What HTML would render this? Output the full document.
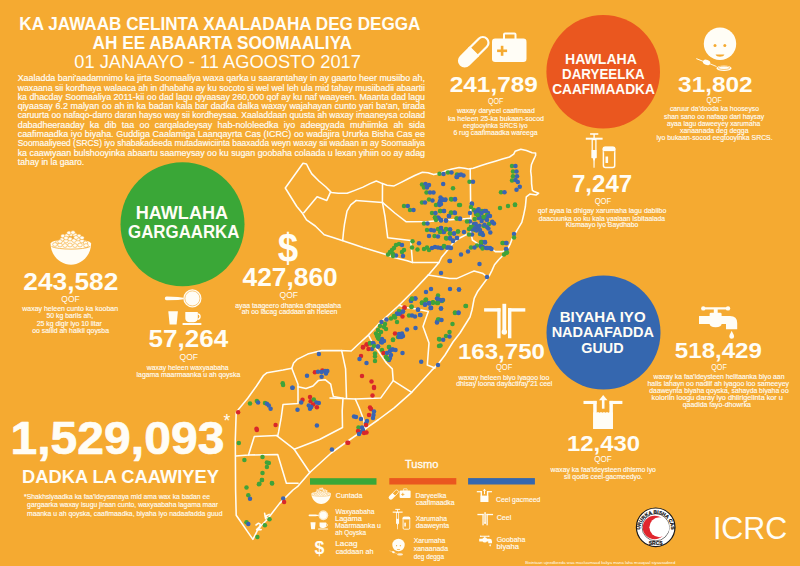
<!DOCTYPE html>
<html><head><meta charset="utf-8"><title>ICRC Somalia</title>
<style>html,body{margin:0;padding:0;background:#F5AA31;} svg{display:block;} text{font-family:"Liberation Sans", Arial, sans-serif;}</style>
</head><body>
<svg width="800" height="566" viewBox="0 0 800 566">
<rect width="800" height="566" fill="#F5AA31"/>
<g fill="none" stroke="#FFFDF6" stroke-width="1.55" stroke-linejoin="round" stroke-linecap="round">
<polyline points="303.0,163.3 306.5,164.0 309.2,169.4 311.8,173.9 318.9,181.0 326.0,187.0 331.2,192.4 338.3,193.3 347.1,193.3 354.2,190.6 363.0,187.1 370.0,183.6 376.3,181.0 382.5,183.6 387.0,185.2 394.1,185.9 401.2,182.4 408.2,178.8 415.3,175.3 422.4,172.2 428.0,172.8 433.7,174.6 439.3,173.6 446.4,170.4 452.0,169.0 459.1,167.5 464.7,168.2 468.3,169.0 473.2,168.2 481.2,165.4 488.3,163.3 495.3,161.2 502.4,159.1 509.5,157.0 513.7,154.1 515.1,151.3 520.8,149.2 526.4,150.6 532.1,152.7 535.6,153.0 535.6,155.5 533.5,159.8 531.4,164.7 530.7,171.1 531.4,176.7 531.6,183.8 532.4,190.4 534.2,191.5 538.6,193.3 536.0,195.0 529.8,194.1 526.3,196.8 525.4,206.5 523.6,215.3 521.8,222.4 516.5,231.2 513.0,236.5 510.4,243.6 507.7,248.9 504.2,254.2 498.9,259.5 494.5,264.8 491.9,270.6 489.2,275.9 486.6,279.4 481.3,286.5 477.8,291.2 474.2,298.3 472.0,310.0 470.0,317.0 465.0,325.0 460.0,333.0 453.0,342.0 445.0,355.0 439.0,363.0 431.2,370.9 411.7,392.3 394.2,407.8 378.6,419.5 365.0,429.2 350.0,439.5 331.2,453.0 309.8,472.5 298.1,486.1 293.0,490.0 285.6,497.4 279.4,503.6 270.8,514.7 267.0,519.7 261.0,525.8 257.2,530.8 252.9,539.4 236.2,515.3 235.6,490.0 235.3,440.0 236.2,412.4 238.8,408.9 247.7,398.3 256.5,386.0 263.6,375.3 267.1,372.7 283.0,370.0 291.8,368.3 293.6,363.0 297.1,359.4 307.7,354.1 321.9,350.6 339.5,350.6 351.2,351.0 358.3,344.2 368.0,335.4 379.5,323.0 399.0,305.3 414.2,290.0 428.4,274.9 439.0,262.5 412.5,262.5 407.2,260.7 393.0,257.2 386.0,254.5 363.0,247.5 354.2,244.5 343.6,241.0 333.0,237.5 324.2,234.8 315.3,226.0 306.5,219.8 302.0,212.7 296.8,206.5 285.3,188.0 303.0,163.3"/>
<polyline points="256.0,525.0 258.5,523.2 260.6,524.4 259.2,527.0 256.6,529.6 261.2,529.6"/>
<polyline points="264.6,513.2 265.6,518.8"/>
<polyline points="265.5,516.2 269.2,514.4"/>
<polyline points="265.6,516.6 268.6,519.2"/>
<polyline points="330.4,192.4 326.8,200.4 317.1,196.8 303.8,212.7"/>
<polyline points="382.5,183.6 382.4,202.4"/>
<polyline points="356.0,200.6 382.4,202.4"/>
<polyline points="356.0,200.6 350.7,204.8 347.0,211.2 344.5,224.2 343.5,232.0 342.7,240.5"/>
<polyline points="382.4,202.4 385.0,216.5 387.7,237.7 410.7,240.4 412.5,262.5"/>
<polyline points="382.4,202.4 394.8,213.0 406.3,221.8 428.4,221.5 470.8,218.3"/>
<polyline points="470.2,169.0 470.8,218.3 470.8,232.4 472.4,240.0 477.7,243.6 486.5,247.1 491.8,248.9 495.3,251.6 502.4,251.6 507.7,249.0"/>
<polyline points="470.8,232.4 460.2,237.7 453.1,243.0 446.0,251.9 441.6,257.2 439.0,262.5"/>
<polyline points="428.4,274.9 449.6,278.4 456.5,278.6 470.7,272.4 474.1,271.0 483.0,273.6 488.0,277.5"/>
<polyline points="368.9,335.8 371.8,341.7 386.4,363.0 392.3,368.9 393.2,380.6 380.6,398.1 355.3,399.0 330.0,398.1"/>
<polyline points="393.2,380.6 411.7,392.3"/>
<polyline points="399.0,305.3 406.0,307.5 416.0,309.0 428.3,311.5 423.0,326.6 429.0,343.0 427.3,365.0 435.0,368.0"/>
<polyline points="355.3,399.0 359.2,407.8 362.1,415.6 364.0,421.4 365.0,429.2"/>
<polyline points="341.7,350.6 345.6,368.9 346.5,398.1"/>
<polyline points="291.8,368.3 298.0,384.2 298.0,393.0 298.0,403.6 283.0,404.5 281.2,417.7 278.6,431.9 277.7,436.0"/>
<polyline points="298.0,386.8 306.0,388.6 313.0,386.0 318.3,380.6 325.4,379.8 330.7,384.2 332.5,393.0 333.4,396.5 343.0,398.3"/>
<polyline points="343.0,398.3 342.2,410.7 342.5,427.5 319.5,439.5 294.2,449.2"/>
<polyline points="276.7,435.6 254.3,436.5 248.5,455.0 235.8,456.0"/>
<polyline points="248.5,455.0 277.7,454.6 286.4,483.2 298.1,483.2"/>
<polyline points="276.7,435.6 294.2,449.2 309.8,472.5"/>
</g>
<g>
<circle cx="439.5" cy="173.8" r="2.25" fill="#3FA33A"/>
<circle cx="443.5" cy="174.0" r="2.25" fill="#3A64B2"/>
<circle cx="448.0" cy="172.5" r="2.25" fill="#3FA33A"/>
<circle cx="451.5" cy="172.5" r="2.25" fill="#3A64B2"/>
<circle cx="457.0" cy="174.5" r="2.25" fill="#3FA33A"/>
<circle cx="456.5" cy="177.0" r="2.25" fill="#3A64B2"/>
<circle cx="459.0" cy="175.0" r="2.25" fill="#3A64B2"/>
<circle cx="422.0" cy="184.5" r="2.25" fill="#3FA33A"/>
<circle cx="425.5" cy="184.0" r="2.25" fill="#3A64B2"/>
<circle cx="429.0" cy="185.0" r="2.25" fill="#3A64B2"/>
<circle cx="424.0" cy="187.5" r="2.25" fill="#3FA33A"/>
<circle cx="427.0" cy="187.5" r="2.25" fill="#3A64B2"/>
<circle cx="443.2" cy="184.0" r="2.25" fill="#3A64B2"/>
<circle cx="453.0" cy="188.2" r="2.25" fill="#3FA33A"/>
<circle cx="426.5" cy="192.5" r="2.25" fill="#3FA33A"/>
<circle cx="430.0" cy="192.5" r="2.25" fill="#3A64B2"/>
<circle cx="433.5" cy="192.5" r="2.25" fill="#3A64B2"/>
<circle cx="422.0" cy="202.5" r="2.25" fill="#3FA33A"/>
<circle cx="425.0" cy="202.5" r="2.25" fill="#3A64B2"/>
<circle cx="429.0" cy="199.5" r="2.25" fill="#3FA33A"/>
<circle cx="432.5" cy="200.5" r="2.25" fill="#3A64B2"/>
<circle cx="440.5" cy="197.5" r="2.25" fill="#3A64B2"/>
<circle cx="440.0" cy="201.0" r="2.25" fill="#3A64B2"/>
<circle cx="442.5" cy="200.0" r="2.25" fill="#3A64B2"/>
<circle cx="445.5" cy="199.5" r="2.25" fill="#3A64B2"/>
<circle cx="439.0" cy="203.5" r="2.25" fill="#3A64B2"/>
<circle cx="436.0" cy="205.0" r="2.25" fill="#3FA33A"/>
<circle cx="439.5" cy="205.0" r="2.25" fill="#3A64B2"/>
<circle cx="451.5" cy="199.5" r="2.25" fill="#3FA33A"/>
<circle cx="455.0" cy="199.5" r="2.25" fill="#3A64B2"/>
<circle cx="459.0" cy="205.0" r="2.25" fill="#3FA33A"/>
<circle cx="404.0" cy="206.0" r="2.25" fill="#3FA33A"/>
<circle cx="407.8" cy="206.0" r="2.25" fill="#3A64B2"/>
<circle cx="410.0" cy="210.0" r="2.25" fill="#3FA33A"/>
<circle cx="413.5" cy="210.0" r="2.25" fill="#3A64B2"/>
<circle cx="432.0" cy="213.0" r="2.25" fill="#3FA33A"/>
<circle cx="435.5" cy="213.0" r="2.25" fill="#3A64B2"/>
<circle cx="440.5" cy="211.0" r="2.25" fill="#3FA33A"/>
<circle cx="444.0" cy="211.0" r="2.25" fill="#3A64B2"/>
<circle cx="451.0" cy="212.5" r="2.25" fill="#3FA33A"/>
<circle cx="454.5" cy="212.5" r="2.25" fill="#3A64B2"/>
<circle cx="449.0" cy="216.0" r="2.25" fill="#3A64B2"/>
<circle cx="435.0" cy="217.5" r="2.25" fill="#3FA33A"/>
<circle cx="438.0" cy="217.5" r="2.25" fill="#3A64B2"/>
<circle cx="512.0" cy="166.0" r="2.25" fill="#3FA33A"/>
<circle cx="515.5" cy="166.0" r="2.25" fill="#3A64B2"/>
<circle cx="513.0" cy="171.5" r="2.25" fill="#3FA33A"/>
<circle cx="516.5" cy="171.5" r="2.25" fill="#3A64B2"/>
<circle cx="513.0" cy="176.2" r="2.25" fill="#3FA33A"/>
<circle cx="517.0" cy="176.2" r="2.25" fill="#3A64B2"/>
<circle cx="512.0" cy="180.5" r="2.25" fill="#3FA33A"/>
<circle cx="515.5" cy="180.0" r="2.25" fill="#3A64B2"/>
<circle cx="517.8" cy="182.0" r="2.25" fill="#3A64B2"/>
<circle cx="519.8" cy="186.8" r="2.25" fill="#3A64B2"/>
<circle cx="516.5" cy="189.8" r="2.25" fill="#3A64B2"/>
<circle cx="501.0" cy="192.2" r="2.25" fill="#3FA33A"/>
<circle cx="504.5" cy="192.2" r="2.25" fill="#3A64B2"/>
<circle cx="469.5" cy="181.8" r="2.25" fill="#3FA33A"/>
<circle cx="473.0" cy="181.8" r="2.25" fill="#3A64B2"/>
<circle cx="457.0" cy="177.0" r="2.25" fill="#3A64B2"/>
<circle cx="461.0" cy="174.5" r="2.25" fill="#3A64B2"/>
<circle cx="463.5" cy="175.5" r="2.25" fill="#3A64B2"/>
<circle cx="471.8" cy="203.5" r="2.25" fill="#3A64B2"/>
<circle cx="515.0" cy="204.5" r="2.25" fill="#3FA33A"/>
<circle cx="442.0" cy="199.0" r="2.25" fill="#3A64B2"/>
<circle cx="445.0" cy="200.0" r="2.25" fill="#3A64B2"/>
<circle cx="441.0" cy="204.0" r="2.25" fill="#3A64B2"/>
<circle cx="451.0" cy="199.0" r="2.25" fill="#3FA33A"/>
<circle cx="455.0" cy="199.0" r="2.25" fill="#3A64B2"/>
<circle cx="460.0" cy="205.0" r="2.25" fill="#3FA33A"/>
<circle cx="472.0" cy="204.0" r="2.25" fill="#3A64B2"/>
<circle cx="471.0" cy="207.0" r="2.25" fill="#3FA33A"/>
<circle cx="470.0" cy="213.0" r="2.25" fill="#3A64B2"/>
<circle cx="474.0" cy="210.0" r="2.25" fill="#3FA33A"/>
<circle cx="478.0" cy="210.0" r="2.25" fill="#3A64B2"/>
<circle cx="480.0" cy="212.0" r="2.25" fill="#3A64B2"/>
<circle cx="482.0" cy="211.0" r="2.25" fill="#3FA33A"/>
<circle cx="486.0" cy="211.0" r="2.25" fill="#3A64B2"/>
<circle cx="488.0" cy="213.0" r="2.25" fill="#3A64B2"/>
<circle cx="490.0" cy="216.0" r="2.25" fill="#3A64B2"/>
<circle cx="487.0" cy="215.0" r="2.25" fill="#3FA33A"/>
<circle cx="478.0" cy="215.0" r="2.25" fill="#3A64B2"/>
<circle cx="476.0" cy="214.0" r="2.25" fill="#3FA33A"/>
<circle cx="480.0" cy="217.0" r="2.25" fill="#3A64B2"/>
<circle cx="483.0" cy="218.0" r="2.25" fill="#3A64B2"/>
<circle cx="485.0" cy="218.0" r="2.25" fill="#3FA33A"/>
<circle cx="487.0" cy="220.0" r="2.25" fill="#3A64B2"/>
<circle cx="492.0" cy="222.5" r="2.25" fill="#3A64B2"/>
<circle cx="494.0" cy="223.5" r="2.25" fill="#3A64B2"/>
<circle cx="489.0" cy="224.0" r="2.25" fill="#3FA33A"/>
<circle cx="487.0" cy="227.0" r="2.25" fill="#3A64B2"/>
<circle cx="484.0" cy="226.0" r="2.25" fill="#3FA33A"/>
<circle cx="470.0" cy="221.5" r="2.25" fill="#3A64B2"/>
<circle cx="467.0" cy="221.5" r="2.25" fill="#3FA33A"/>
<circle cx="474.0" cy="224.0" r="2.25" fill="#3A64B2"/>
<circle cx="476.0" cy="226.0" r="2.25" fill="#3A64B2"/>
<circle cx="473.0" cy="227.0" r="2.25" fill="#3FA33A"/>
<circle cx="478.0" cy="228.0" r="2.25" fill="#3A64B2"/>
<circle cx="480.0" cy="230.0" r="2.25" fill="#3A64B2"/>
<circle cx="482.0" cy="233.0" r="2.25" fill="#3A64B2"/>
<circle cx="483.0" cy="235.0" r="2.25" fill="#3A64B2"/>
<circle cx="480.0" cy="234.0" r="2.25" fill="#3FA33A"/>
<circle cx="475.0" cy="230.0" r="2.25" fill="#3FA33A"/>
<circle cx="472.0" cy="229.5" r="2.25" fill="#3A64B2"/>
<circle cx="469.0" cy="229.0" r="2.25" fill="#3FA33A"/>
<circle cx="472.0" cy="234.5" r="2.25" fill="#3A64B2"/>
<circle cx="469.0" cy="234.5" r="2.25" fill="#3FA33A"/>
<circle cx="464.0" cy="232.0" r="2.25" fill="#3A64B2"/>
<circle cx="482.0" cy="242.0" r="2.25" fill="#3A64B2"/>
<circle cx="481.0" cy="244.0" r="2.25" fill="#3FA33A"/>
<circle cx="485.0" cy="242.5" r="2.25" fill="#3A64B2"/>
<circle cx="483.0" cy="247.0" r="2.25" fill="#3A64B2"/>
<circle cx="487.0" cy="248.0" r="2.25" fill="#3A64B2"/>
<circle cx="490.0" cy="248.0" r="2.25" fill="#3A64B2"/>
<circle cx="500.0" cy="208.0" r="2.25" fill="#3FA33A"/>
<circle cx="508.0" cy="206.0" r="2.25" fill="#3FA33A"/>
<circle cx="515.0" cy="205.0" r="2.25" fill="#3FA33A"/>
<circle cx="514.0" cy="234.0" r="2.25" fill="#3A64B2"/>
<circle cx="514.0" cy="237.5" r="2.25" fill="#3FA33A"/>
<circle cx="503.0" cy="243.0" r="2.25" fill="#3FA33A"/>
<circle cx="506.0" cy="243.0" r="2.25" fill="#3A64B2"/>
<circle cx="506.0" cy="249.0" r="2.25" fill="#3A64B2"/>
<circle cx="440.0" cy="211.0" r="2.25" fill="#3FA33A"/>
<circle cx="444.0" cy="211.0" r="2.25" fill="#3A64B2"/>
<circle cx="449.0" cy="216.0" r="2.25" fill="#3A64B2"/>
<circle cx="451.0" cy="213.0" r="2.25" fill="#3FA33A"/>
<circle cx="455.0" cy="213.0" r="2.25" fill="#3A64B2"/>
<circle cx="456.5" cy="218.5" r="2.25" fill="#3FA33A"/>
<circle cx="460.0" cy="218.5" r="2.25" fill="#3A64B2"/>
<circle cx="441.0" cy="220.0" r="2.25" fill="#3A64B2"/>
<circle cx="446.0" cy="220.5" r="2.25" fill="#3A64B2"/>
<circle cx="441.0" cy="228.0" r="2.25" fill="#3A64B2"/>
<circle cx="443.0" cy="232.0" r="2.25" fill="#3A64B2"/>
<circle cx="446.0" cy="229.0" r="2.25" fill="#3FA33A"/>
<circle cx="450.0" cy="229.5" r="2.25" fill="#3A64B2"/>
<circle cx="458.0" cy="231.5" r="2.25" fill="#3FA33A"/>
<circle cx="454.0" cy="233.5" r="2.25" fill="#3A64B2"/>
<circle cx="450.0" cy="233.5" r="2.25" fill="#3FA33A"/>
<circle cx="446.0" cy="238.0" r="2.25" fill="#3FA33A"/>
<circle cx="450.0" cy="238.0" r="2.25" fill="#3A64B2"/>
<circle cx="453.0" cy="241.0" r="2.25" fill="#3A64B2"/>
<circle cx="457.0" cy="238.0" r="2.25" fill="#3A64B2"/>
<circle cx="442.0" cy="248.0" r="2.25" fill="#3A64B2"/>
<circle cx="444.0" cy="246.0" r="2.25" fill="#3FA33A"/>
<circle cx="447.0" cy="247.5" r="2.25" fill="#3A64B2"/>
<circle cx="450.0" cy="247.5" r="2.25" fill="#3A64B2"/>
<circle cx="435.0" cy="217.5" r="2.25" fill="#3FA33A"/>
<circle cx="439.0" cy="218.5" r="2.25" fill="#3A64B2"/>
<circle cx="441.0" cy="220.5" r="2.25" fill="#3A64B2"/>
<circle cx="436.0" cy="220.0" r="2.25" fill="#3FA33A"/>
<circle cx="446.0" cy="220.5" r="2.25" fill="#3A64B2"/>
<circle cx="449.0" cy="216.0" r="2.25" fill="#3A64B2"/>
<circle cx="457.0" cy="218.5" r="2.25" fill="#3FA33A"/>
<circle cx="460.0" cy="219.0" r="2.25" fill="#3A64B2"/>
<circle cx="424.0" cy="223.5" r="2.25" fill="#3FA33A"/>
<circle cx="427.5" cy="223.5" r="2.25" fill="#3A64B2"/>
<circle cx="427.0" cy="230.0" r="2.25" fill="#3FA33A"/>
<circle cx="431.0" cy="230.0" r="2.25" fill="#3A64B2"/>
<circle cx="434.0" cy="230.5" r="2.25" fill="#3A64B2"/>
<circle cx="438.0" cy="229.0" r="2.25" fill="#3FA33A"/>
<circle cx="441.0" cy="228.0" r="2.25" fill="#3A64B2"/>
<circle cx="442.0" cy="231.0" r="2.25" fill="#3A64B2"/>
<circle cx="444.0" cy="232.0" r="2.25" fill="#3A64B2"/>
<circle cx="440.0" cy="232.0" r="2.25" fill="#3FA33A"/>
<circle cx="446.0" cy="229.5" r="2.25" fill="#3FA33A"/>
<circle cx="450.0" cy="229.5" r="2.25" fill="#3A64B2"/>
<circle cx="454.0" cy="233.5" r="2.25" fill="#3A64B2"/>
<circle cx="450.0" cy="233.5" r="2.25" fill="#3FA33A"/>
<circle cx="458.0" cy="231.5" r="2.25" fill="#3FA33A"/>
<circle cx="429.0" cy="236.0" r="2.25" fill="#3A64B2"/>
<circle cx="434.5" cy="236.0" r="2.25" fill="#3FA33A"/>
<circle cx="438.0" cy="236.5" r="2.25" fill="#3A64B2"/>
<circle cx="446.5" cy="238.5" r="2.25" fill="#3FA33A"/>
<circle cx="450.0" cy="238.5" r="2.25" fill="#3A64B2"/>
<circle cx="453.0" cy="240.5" r="2.25" fill="#3A64B2"/>
<circle cx="457.0" cy="238.0" r="2.25" fill="#3A64B2"/>
<circle cx="412.5" cy="241.2" r="2.25" fill="#3FA33A"/>
<circle cx="419.0" cy="243.2" r="2.25" fill="#3A64B2"/>
<circle cx="412.0" cy="247.5" r="2.25" fill="#3FA33A"/>
<circle cx="417.5" cy="249.5" r="2.25" fill="#3FA33A"/>
<circle cx="424.0" cy="249.0" r="2.25" fill="#3FA33A"/>
<circle cx="427.0" cy="247.5" r="2.25" fill="#3FA33A"/>
<circle cx="429.0" cy="250.0" r="2.25" fill="#3FA33A"/>
<circle cx="432.0" cy="248.0" r="2.25" fill="#3A64B2"/>
<circle cx="435.0" cy="247.0" r="2.25" fill="#3A64B2"/>
<circle cx="438.0" cy="247.5" r="2.25" fill="#3A64B2"/>
<circle cx="441.0" cy="248.0" r="2.25" fill="#3A64B2"/>
<circle cx="444.0" cy="246.5" r="2.25" fill="#3FA33A"/>
<circle cx="448.0" cy="247.5" r="2.25" fill="#3A64B2"/>
<circle cx="451.0" cy="248.0" r="2.25" fill="#3A64B2"/>
<circle cx="396.0" cy="245.0" r="2.25" fill="#3FA33A"/>
<circle cx="399.0" cy="244.0" r="2.25" fill="#3FA33A"/>
<circle cx="402.0" cy="245.0" r="2.25" fill="#3A64B2"/>
<circle cx="394.0" cy="248.0" r="2.25" fill="#3FA33A"/>
<circle cx="392.0" cy="250.0" r="2.25" fill="#3FA33A"/>
<circle cx="390.0" cy="252.0" r="2.25" fill="#3FA33A"/>
<circle cx="388.0" cy="254.5" r="2.25" fill="#3FA33A"/>
<circle cx="393.0" cy="254.0" r="2.25" fill="#3FA33A"/>
<circle cx="404.0" cy="250.0" r="2.25" fill="#3FA33A"/>
<circle cx="402.0" cy="252.0" r="2.25" fill="#3FA33A"/>
<circle cx="396.0" cy="255.5" r="2.25" fill="#3A64B2"/>
<circle cx="403.0" cy="256.0" r="2.25" fill="#3A64B2"/>
<circle cx="393.0" cy="256.0" r="2.25" fill="#3FA33A"/>
<circle cx="450.0" cy="261.0" r="2.25" fill="#3A64B2"/>
<circle cx="481.0" cy="242.0" r="2.25" fill="#3FA33A"/>
<circle cx="485.0" cy="242.0" r="2.25" fill="#3A64B2"/>
<circle cx="477.0" cy="245.5" r="2.25" fill="#3FA33A"/>
<circle cx="471.0" cy="247.5" r="2.25" fill="#3FA33A"/>
<circle cx="474.5" cy="247.5" r="2.25" fill="#3A64B2"/>
<circle cx="481.0" cy="246.5" r="2.25" fill="#3A64B2"/>
<circle cx="482.5" cy="248.5" r="2.25" fill="#3FA33A"/>
<circle cx="486.0" cy="248.0" r="2.25" fill="#3A64B2"/>
<circle cx="488.0" cy="248.0" r="2.25" fill="#3A64B2"/>
<circle cx="491.5" cy="249.0" r="2.25" fill="#3A64B2"/>
<circle cx="468.0" cy="251.5" r="2.25" fill="#3A64B2"/>
<circle cx="461.0" cy="254.5" r="2.25" fill="#3A64B2"/>
<circle cx="502.5" cy="243.0" r="2.25" fill="#3FA33A"/>
<circle cx="506.5" cy="243.0" r="2.25" fill="#3A64B2"/>
<circle cx="506.5" cy="249.5" r="2.25" fill="#3A64B2"/>
<circle cx="506.0" cy="253.0" r="2.25" fill="#3FA33A"/>
<circle cx="504.0" cy="254.5" r="2.25" fill="#3FA33A"/>
<circle cx="507.0" cy="252.5" r="2.25" fill="#3FA33A"/>
<circle cx="479.5" cy="264.0" r="2.25" fill="#3A64B2"/>
<circle cx="487.0" cy="277.0" r="2.25" fill="#3A64B2"/>
<circle cx="459.0" cy="289.5" r="2.25" fill="#3A64B2"/>
<circle cx="449.5" cy="261.0" r="2.25" fill="#3A64B2"/>
<circle cx="441.0" cy="273.0" r="2.25" fill="#3A64B2"/>
<circle cx="431.0" cy="289.0" r="2.25" fill="#3A64B2"/>
<circle cx="426.0" cy="292.0" r="2.25" fill="#3A64B2"/>
<circle cx="450.0" cy="289.0" r="2.25" fill="#3A64B2"/>
<circle cx="459.0" cy="289.5" r="2.25" fill="#3A64B2"/>
<circle cx="438.0" cy="295.5" r="2.25" fill="#3FA33A"/>
<circle cx="437.0" cy="298.5" r="2.25" fill="#3A64B2"/>
<circle cx="440.0" cy="300.0" r="2.25" fill="#3A64B2"/>
<circle cx="443.0" cy="300.0" r="2.25" fill="#3A64B2"/>
<circle cx="442.0" cy="301.0" r="2.25" fill="#3FA33A"/>
<circle cx="438.0" cy="302.0" r="2.25" fill="#3FA33A"/>
<circle cx="429.0" cy="303.0" r="2.25" fill="#3A64B2"/>
<circle cx="433.0" cy="302.5" r="2.25" fill="#3FA33A"/>
<circle cx="425.0" cy="304.5" r="2.25" fill="#3A64B2"/>
<circle cx="422.0" cy="303.0" r="2.25" fill="#3FA33A"/>
<circle cx="425.5" cy="300.0" r="2.25" fill="#3FA33A"/>
<circle cx="411.0" cy="301.0" r="2.25" fill="#3A64B2"/>
<circle cx="412.0" cy="298.5" r="2.25" fill="#3FA33A"/>
<circle cx="415.5" cy="298.5" r="2.25" fill="#3A64B2"/>
<circle cx="404.5" cy="307.8" r="2.25" fill="#D8272B"/>
<circle cx="411.5" cy="306.5" r="2.25" fill="#3FA33A"/>
<circle cx="418.0" cy="309.5" r="2.25" fill="#3A64B2"/>
<circle cx="431.0" cy="307.8" r="2.25" fill="#3A64B2"/>
<circle cx="441.0" cy="308.5" r="2.25" fill="#3A64B2"/>
<circle cx="466.0" cy="306.0" r="2.25" fill="#3FA33A"/>
<circle cx="455.0" cy="312.5" r="2.25" fill="#3FA33A"/>
<circle cx="458.5" cy="312.5" r="2.25" fill="#3A64B2"/>
<circle cx="403.0" cy="311.5" r="2.25" fill="#3A64B2"/>
<circle cx="397.0" cy="314.0" r="2.25" fill="#3A64B2"/>
<circle cx="399.0" cy="311.0" r="2.25" fill="#3FA33A"/>
<circle cx="411.0" cy="300.5" r="2.25" fill="#3A64B2"/>
<circle cx="415.0" cy="298.5" r="2.25" fill="#3A64B2"/>
<circle cx="412.0" cy="299.0" r="2.25" fill="#3FA33A"/>
<circle cx="422.0" cy="302.5" r="2.25" fill="#3FA33A"/>
<circle cx="425.0" cy="304.5" r="2.25" fill="#3A64B2"/>
<circle cx="429.0" cy="303.0" r="2.25" fill="#3A64B2"/>
<circle cx="433.0" cy="302.5" r="2.25" fill="#3FA33A"/>
<circle cx="438.0" cy="299.0" r="2.25" fill="#3A64B2"/>
<circle cx="437.0" cy="303.0" r="2.25" fill="#3FA33A"/>
<circle cx="431.0" cy="308.0" r="2.25" fill="#3A64B2"/>
<circle cx="426.0" cy="299.5" r="2.25" fill="#3FA33A"/>
<circle cx="404.5" cy="307.5" r="2.25" fill="#D8272B"/>
<circle cx="411.5" cy="307.0" r="2.25" fill="#3FA33A"/>
<circle cx="418.0" cy="309.8" r="2.25" fill="#3A64B2"/>
<circle cx="403.0" cy="311.5" r="2.25" fill="#3A64B2"/>
<circle cx="397.0" cy="313.5" r="2.25" fill="#3A64B2"/>
<circle cx="400.0" cy="314.0" r="2.25" fill="#3A64B2"/>
<circle cx="394.0" cy="316.0" r="2.25" fill="#3FA33A"/>
<circle cx="391.0" cy="318.5" r="2.25" fill="#3FA33A"/>
<circle cx="395.0" cy="317.5" r="2.25" fill="#3FA33A"/>
<circle cx="402.5" cy="316.5" r="2.25" fill="#D8272B"/>
<circle cx="397.0" cy="322.0" r="2.25" fill="#3FA33A"/>
<circle cx="386.5" cy="319.5" r="2.25" fill="#3A64B2"/>
<circle cx="381.5" cy="322.0" r="2.25" fill="#3A64B2"/>
<circle cx="385.0" cy="324.0" r="2.25" fill="#3FA33A"/>
<circle cx="384.0" cy="327.0" r="2.25" fill="#3FA33A"/>
<circle cx="380.0" cy="326.0" r="2.25" fill="#3FA33A"/>
<circle cx="386.0" cy="329.0" r="2.25" fill="#3FA33A"/>
<circle cx="378.0" cy="330.0" r="2.25" fill="#3FA33A"/>
<circle cx="381.0" cy="332.0" r="2.25" fill="#3FA33A"/>
<circle cx="376.0" cy="333.5" r="2.25" fill="#3FA33A"/>
<circle cx="379.0" cy="335.0" r="2.25" fill="#3FA33A"/>
<circle cx="378.0" cy="338.0" r="2.25" fill="#3FA33A"/>
<circle cx="382.0" cy="339.0" r="2.25" fill="#3A64B2"/>
<circle cx="383.0" cy="341.0" r="2.25" fill="#3A64B2"/>
<circle cx="381.0" cy="342.0" r="2.25" fill="#3A64B2"/>
<circle cx="393.0" cy="340.0" r="2.25" fill="#3FA33A"/>
<circle cx="395.0" cy="333.5" r="2.25" fill="#D8272B"/>
<circle cx="399.0" cy="334.0" r="2.25" fill="#3A64B2"/>
<circle cx="402.0" cy="333.5" r="2.25" fill="#3A64B2"/>
<circle cx="403.0" cy="336.0" r="2.25" fill="#3A64B2"/>
<circle cx="401.0" cy="337.0" r="2.25" fill="#3A64B2"/>
<circle cx="398.0" cy="337.0" r="2.25" fill="#3FA33A"/>
<circle cx="409.0" cy="315.5" r="2.25" fill="#3FA33A"/>
<circle cx="412.0" cy="315.5" r="2.25" fill="#3A64B2"/>
<circle cx="415.0" cy="316.5" r="2.25" fill="#3A64B2"/>
<circle cx="420.0" cy="315.0" r="2.25" fill="#3A64B2"/>
<circle cx="407.0" cy="329.5" r="2.25" fill="#3A64B2"/>
<circle cx="415.5" cy="328.0" r="2.25" fill="#3A64B2"/>
<circle cx="437.0" cy="322.0" r="2.25" fill="#3A64B2"/>
<circle cx="438.0" cy="319.5" r="2.25" fill="#3FA33A"/>
<circle cx="363.0" cy="347.0" r="2.25" fill="#D8272B"/>
<circle cx="367.0" cy="344.5" r="2.25" fill="#D8272B"/>
<circle cx="370.0" cy="343.0" r="2.25" fill="#3FA33A"/>
<circle cx="373.5" cy="343.5" r="2.25" fill="#3A64B2"/>
<circle cx="378.0" cy="346.5" r="2.25" fill="#3A64B2"/>
<circle cx="389.0" cy="347.0" r="2.25" fill="#3FA33A"/>
<circle cx="393.0" cy="349.5" r="2.25" fill="#3A64B2"/>
<circle cx="439.0" cy="339.0" r="2.25" fill="#3FA33A"/>
<circle cx="439.0" cy="346.0" r="2.25" fill="#3FA33A"/>
<circle cx="422.0" cy="303.0" r="2.25" fill="#3FA33A"/>
<circle cx="425.0" cy="304.5" r="2.25" fill="#3A64B2"/>
<circle cx="429.0" cy="303.5" r="2.25" fill="#3A64B2"/>
<circle cx="433.0" cy="302.5" r="2.25" fill="#3FA33A"/>
<circle cx="439.0" cy="300.5" r="2.25" fill="#3A64B2"/>
<circle cx="441.5" cy="300.5" r="2.25" fill="#3A64B2"/>
<circle cx="438.0" cy="303.0" r="2.25" fill="#3FA33A"/>
<circle cx="430.5" cy="308.0" r="2.25" fill="#3A64B2"/>
<circle cx="441.0" cy="308.5" r="2.25" fill="#3A64B2"/>
<circle cx="420.5" cy="315.0" r="2.25" fill="#3A64B2"/>
<circle cx="465.5" cy="306.0" r="2.25" fill="#3FA33A"/>
<circle cx="455.0" cy="313.0" r="2.25" fill="#3FA33A"/>
<circle cx="458.5" cy="313.0" r="2.25" fill="#3A64B2"/>
<circle cx="439.0" cy="319.5" r="2.25" fill="#3FA33A"/>
<circle cx="441.5" cy="320.0" r="2.25" fill="#3A64B2"/>
<circle cx="437.0" cy="322.5" r="2.25" fill="#3A64B2"/>
<circle cx="452.5" cy="324.0" r="2.25" fill="#3FA33A"/>
<circle cx="449.5" cy="332.0" r="2.25" fill="#3FA33A"/>
<circle cx="446.0" cy="336.0" r="2.25" fill="#3FA33A"/>
<circle cx="449.5" cy="336.5" r="2.25" fill="#3A64B2"/>
<circle cx="439.5" cy="339.5" r="2.25" fill="#3FA33A"/>
<circle cx="443.2" cy="339.8" r="2.25" fill="#3A64B2"/>
<circle cx="440.5" cy="345.5" r="2.25" fill="#3FA33A"/>
<circle cx="366.5" cy="344.5" r="2.25" fill="#D8272B"/>
<circle cx="363.0" cy="347.5" r="2.25" fill="#D8272B"/>
<circle cx="370.0" cy="343.5" r="2.25" fill="#3FA33A"/>
<circle cx="373.0" cy="343.0" r="2.25" fill="#3A64B2"/>
<circle cx="372.0" cy="349.0" r="2.25" fill="#3A64B2"/>
<circle cx="368.5" cy="349.0" r="2.25" fill="#D8272B"/>
<circle cx="374.0" cy="346.0" r="2.25" fill="#3FA33A"/>
<circle cx="378.0" cy="346.5" r="2.25" fill="#3A64B2"/>
<circle cx="379.0" cy="339.0" r="2.25" fill="#3FA33A"/>
<circle cx="382.0" cy="340.0" r="2.25" fill="#3A64B2"/>
<circle cx="384.0" cy="341.0" r="2.25" fill="#3A64B2"/>
<circle cx="377.0" cy="336.0" r="2.25" fill="#3FA33A"/>
<circle cx="382.0" cy="342.5" r="2.25" fill="#3A64B2"/>
<circle cx="393.0" cy="339.5" r="2.25" fill="#3FA33A"/>
<circle cx="399.0" cy="337.0" r="2.25" fill="#3A64B2"/>
<circle cx="402.0" cy="336.5" r="2.25" fill="#3A64B2"/>
<circle cx="389.0" cy="347.0" r="2.25" fill="#3FA33A"/>
<circle cx="382.0" cy="350.0" r="2.25" fill="#3FA33A"/>
<circle cx="383.5" cy="353.0" r="2.25" fill="#D8272B"/>
<circle cx="387.0" cy="353.0" r="2.25" fill="#3A64B2"/>
<circle cx="390.0" cy="351.0" r="2.25" fill="#3A64B2"/>
<circle cx="392.0" cy="349.5" r="2.25" fill="#3A64B2"/>
<circle cx="395.5" cy="350.0" r="2.25" fill="#3A64B2"/>
<circle cx="386.0" cy="357.0" r="2.25" fill="#3FA33A"/>
<circle cx="390.0" cy="358.0" r="2.25" fill="#3A64B2"/>
<circle cx="389.0" cy="360.0" r="2.25" fill="#3A64B2"/>
<circle cx="391.0" cy="355.0" r="2.25" fill="#3A64B2"/>
<circle cx="387.5" cy="359.0" r="2.25" fill="#3FA33A"/>
<circle cx="375.0" cy="353.5" r="2.25" fill="#3FA33A"/>
<circle cx="375.0" cy="356.5" r="2.25" fill="#3FA33A"/>
<circle cx="375.0" cy="361.0" r="2.25" fill="#3FA33A"/>
<circle cx="361.0" cy="356.0" r="2.25" fill="#D8272B"/>
<circle cx="359.5" cy="359.0" r="2.25" fill="#3A64B2"/>
<circle cx="366.5" cy="363.0" r="2.25" fill="#3A64B2"/>
<circle cx="402.5" cy="353.0" r="2.25" fill="#3A64B2"/>
<circle cx="362.0" cy="376.0" r="2.25" fill="#D8272B"/>
<circle cx="371.5" cy="381.5" r="2.25" fill="#D8272B"/>
<circle cx="374.0" cy="387.0" r="2.25" fill="#D8272B"/>
<circle cx="374.0" cy="388.0" r="2.25" fill="#D8272B"/>
<circle cx="372.5" cy="395.5" r="2.25" fill="#D8272B"/>
<circle cx="370.0" cy="407.5" r="2.25" fill="#D8272B"/>
<circle cx="371.0" cy="409.0" r="2.25" fill="#D8272B"/>
<circle cx="374.0" cy="411.5" r="2.25" fill="#3A64B2"/>
<circle cx="373.5" cy="415.0" r="2.25" fill="#3A64B2"/>
<circle cx="373.0" cy="418.0" r="2.25" fill="#3A64B2"/>
<circle cx="369.0" cy="415.0" r="2.25" fill="#D8272B"/>
<circle cx="354.0" cy="416.5" r="2.25" fill="#3A64B2"/>
<circle cx="356.0" cy="417.0" r="2.25" fill="#3A64B2"/>
<circle cx="361.0" cy="419.0" r="2.25" fill="#3A64B2"/>
<circle cx="367.0" cy="421.0" r="2.25" fill="#3A64B2"/>
<circle cx="366.0" cy="423.5" r="2.25" fill="#3A64B2"/>
<circle cx="366.0" cy="425.0" r="2.25" fill="#D8272B"/>
<circle cx="358.5" cy="427.5" r="2.25" fill="#3FA33A"/>
<circle cx="362.0" cy="427.5" r="2.25" fill="#3A64B2"/>
<circle cx="363.0" cy="430.0" r="2.25" fill="#3A64B2"/>
<circle cx="360.0" cy="432.0" r="2.25" fill="#3A64B2"/>
<circle cx="358.0" cy="431.0" r="2.25" fill="#D8272B"/>
<circle cx="364.0" cy="433.0" r="2.25" fill="#D8272B"/>
<circle cx="366.5" cy="432.5" r="2.25" fill="#D8272B"/>
<circle cx="359.0" cy="434.0" r="2.25" fill="#3A64B2"/>
<circle cx="318.9" cy="354.1" r="2.25" fill="#3A64B2"/>
<circle cx="314.9" cy="372.3" r="2.25" fill="#D8272B"/>
<circle cx="318.0" cy="371.8" r="2.25" fill="#3A64B2"/>
<circle cx="322.4" cy="370.5" r="2.25" fill="#D8272B"/>
<circle cx="321.6" cy="372.0" r="2.25" fill="#3A64B2"/>
<circle cx="325.1" cy="370.9" r="2.25" fill="#3A64B2"/>
<circle cx="327.3" cy="370.9" r="2.25" fill="#3A64B2"/>
<circle cx="326.0" cy="373.6" r="2.25" fill="#3A64B2"/>
<circle cx="321.6" cy="376.7" r="2.25" fill="#3A64B2"/>
<circle cx="307.0" cy="375.8" r="2.25" fill="#3A64B2"/>
<circle cx="282.7" cy="383.3" r="2.25" fill="#3FA33A"/>
<circle cx="292.4" cy="387.7" r="2.25" fill="#3A64B2"/>
<circle cx="283.1" cy="385.0" r="2.25" fill="#3FA33A"/>
<circle cx="292.5" cy="387.8" r="2.25" fill="#3A64B2"/>
<circle cx="250.0" cy="403.5" r="2.25" fill="#3FA33A"/>
<circle cx="256.9" cy="401.0" r="2.25" fill="#3FA33A"/>
<circle cx="258.1" cy="402.5" r="2.25" fill="#3A64B2"/>
<circle cx="265.0" cy="403.1" r="2.25" fill="#3FA33A"/>
<circle cx="266.9" cy="403.8" r="2.25" fill="#3A64B2"/>
<circle cx="268.8" cy="405.6" r="2.25" fill="#3A64B2"/>
<circle cx="270.6" cy="408.8" r="2.25" fill="#3A64B2"/>
<circle cx="238.1" cy="412.2" r="2.25" fill="#D8272B"/>
<circle cx="275.6" cy="425.0" r="2.25" fill="#D8272B"/>
<circle cx="256.5" cy="428.8" r="2.25" fill="#D8272B"/>
<circle cx="302.5" cy="399.8" r="2.25" fill="#D8272B"/>
<circle cx="301.2" cy="402.5" r="2.25" fill="#3A64B2"/>
<circle cx="297.5" cy="409.8" r="2.25" fill="#3A64B2"/>
<circle cx="310.0" cy="396.9" r="2.25" fill="#D8272B"/>
<circle cx="310.6" cy="401.2" r="2.25" fill="#D8272B"/>
<circle cx="313.8" cy="399.4" r="2.25" fill="#3FA33A"/>
<circle cx="316.2" cy="402.5" r="2.25" fill="#3A64B2"/>
<circle cx="318.8" cy="403.1" r="2.25" fill="#3A64B2"/>
<circle cx="313.1" cy="404.4" r="2.25" fill="#D8272B"/>
<circle cx="316.9" cy="407.2" r="2.25" fill="#D8272B"/>
<circle cx="308.8" cy="405.6" r="2.25" fill="#3A64B2"/>
<circle cx="310.0" cy="408.8" r="2.25" fill="#3A64B2"/>
<circle cx="311.2" cy="406.9" r="2.25" fill="#3A64B2"/>
<circle cx="316.9" cy="425.6" r="2.25" fill="#3A64B2"/>
<circle cx="256.9" cy="430.0" r="2.25" fill="#D8272B"/>
<circle cx="238.8" cy="443.1" r="2.25" fill="#3FA33A"/>
<circle cx="244.4" cy="460.0" r="2.25" fill="#3FA33A"/>
<circle cx="262.5" cy="456.9" r="2.25" fill="#3FA33A"/>
<circle cx="266.9" cy="462.5" r="2.25" fill="#3FA33A"/>
<circle cx="268.8" cy="463.1" r="2.25" fill="#3FA33A"/>
<circle cx="266.9" cy="466.9" r="2.25" fill="#3FA33A"/>
<circle cx="262.5" cy="473.1" r="2.25" fill="#3FA33A"/>
<circle cx="261.9" cy="480.0" r="2.25" fill="#3FA33A"/>
<circle cx="259.4" cy="483.8" r="2.25" fill="#3FA33A"/>
<circle cx="271.9" cy="483.1" r="2.25" fill="#3FA33A"/>
<circle cx="331.9" cy="449.4" r="2.25" fill="#3A64B2"/>
<circle cx="262.0" cy="479.9" r="2.25" fill="#3FA33A"/>
<circle cx="258.9" cy="484.3" r="2.25" fill="#3FA33A"/>
<circle cx="272.1" cy="483.4" r="2.25" fill="#3FA33A"/>
<circle cx="246.5" cy="487.4" r="2.25" fill="#3FA33A"/>
<circle cx="248.3" cy="495.3" r="2.25" fill="#3FA33A"/>
<circle cx="250.0" cy="498.7" r="2.25" fill="#3A64B2"/>
<circle cx="283.2" cy="498.4" r="2.25" fill="#3A64B2"/>
<circle cx="284.1" cy="502.0" r="2.25" fill="#D8272B"/>
<circle cx="269.5" cy="519.2" r="2.25" fill="#3FA33A"/>
<circle cx="246.5" cy="522.3" r="2.25" fill="#3FA33A"/>
<circle cx="248.3" cy="524.1" r="2.25" fill="#3A64B2"/>
<circle cx="257.4" cy="537.0" r="2.25" fill="#3FA33A"/>
<circle cx="264.9" cy="525.2" r="2.25" fill="#3FA33A"/>
<circle cx="348.2" cy="442.8" r="2.25" fill="#D8272B"/>
<circle cx="347.4" cy="442.7" r="2.25" fill="#D8272B"/>
<circle cx="421.2" cy="361.8" r="2.25" fill="#3A64B2"/>
<circle cx="438.0" cy="365.0" r="2.25" fill="#3A64B2"/>
<circle cx="475.7" cy="212.1" r="2.25" fill="#3A64B2"/>
<circle cx="478.6" cy="209.2" r="2.25" fill="#3A64B2"/>
<circle cx="481.6" cy="213.1" r="2.25" fill="#3A64B2"/>
<circle cx="484.5" cy="211.1" r="2.25" fill="#3A64B2"/>
<circle cx="488.4" cy="216.0" r="2.25" fill="#3A64B2"/>
<circle cx="478.6" cy="217.9" r="2.25" fill="#3A64B2"/>
<circle cx="481.6" cy="220.9" r="2.25" fill="#3A64B2"/>
<circle cx="475.7" cy="223.8" r="2.25" fill="#3A64B2"/>
<circle cx="479.6" cy="225.7" r="2.25" fill="#3A64B2"/>
<circle cx="484.5" cy="224.7" r="2.25" fill="#3A64B2"/>
<circle cx="488.4" cy="228.6" r="2.25" fill="#3A64B2"/>
<circle cx="492.3" cy="221.8" r="2.25" fill="#3A64B2"/>
<circle cx="476.7" cy="230.6" r="2.25" fill="#3A64B2"/>
<circle cx="480.6" cy="233.5" r="2.25" fill="#3A64B2"/>
<circle cx="473.8" cy="228.6" r="2.25" fill="#3A64B2"/>
<circle cx="470.9" cy="226.7" r="2.25" fill="#3FA33A"/>
<circle cx="477.7" cy="215.0" r="2.25" fill="#3FA33A"/>
<circle cx="486.4" cy="218.9" r="2.25" fill="#3A64B2"/>
<circle cx="483.5" cy="217.0" r="2.25" fill="#3FA33A"/>
<circle cx="490.3" cy="232.5" r="2.25" fill="#3A64B2"/>
<circle cx="474.7" cy="218.9" r="2.25" fill="#3FA33A"/>
</g>
<defs><g id="i-bowl"><path d="M50.6,243.5 C50.6,238 91.1,238 91.1,243.5 C91.1,256 81,264.7 71,264.7 C60.6,264.7 50.6,256 50.6,243.5 Z" fill="#FFFDF6"/><ellipse cx="58" cy="242" rx="2.3" ry="1.9" fill="#FFFDF6" stroke="#F5AA31" stroke-width="0.6"/><ellipse cx="62" cy="239.5" rx="2.3" ry="1.9" fill="#FFFDF6" stroke="#F5AA31" stroke-width="0.6"/><ellipse cx="66" cy="241" rx="2.3" ry="1.9" fill="#FFFDF6" stroke="#F5AA31" stroke-width="0.6"/><ellipse cx="70" cy="239" rx="2.3" ry="1.9" fill="#FFFDF6" stroke="#F5AA31" stroke-width="0.6"/><ellipse cx="74" cy="240.5" rx="2.3" ry="1.9" fill="#FFFDF6" stroke="#F5AA31" stroke-width="0.6"/><ellipse cx="78" cy="239" rx="2.3" ry="1.9" fill="#FFFDF6" stroke="#F5AA31" stroke-width="0.6"/><ellipse cx="82" cy="241" rx="2.3" ry="1.9" fill="#FFFDF6" stroke="#F5AA31" stroke-width="0.6"/><ellipse cx="85.5" cy="243" rx="2.3" ry="1.9" fill="#FFFDF6" stroke="#F5AA31" stroke-width="0.6"/><ellipse cx="55" cy="244.5" rx="2.3" ry="1.9" fill="#FFFDF6" stroke="#F5AA31" stroke-width="0.6"/><ellipse cx="60" cy="245" rx="2.3" ry="1.9" fill="#FFFDF6" stroke="#F5AA31" stroke-width="0.6"/><ellipse cx="65" cy="245.5" rx="2.3" ry="1.9" fill="#FFFDF6" stroke="#F5AA31" stroke-width="0.6"/><ellipse cx="70" cy="245" rx="2.3" ry="1.9" fill="#FFFDF6" stroke="#F5AA31" stroke-width="0.6"/><ellipse cx="75" cy="245.5" rx="2.3" ry="1.9" fill="#FFFDF6" stroke="#F5AA31" stroke-width="0.6"/><ellipse cx="80" cy="245" rx="2.3" ry="1.9" fill="#FFFDF6" stroke="#F5AA31" stroke-width="0.6"/><ellipse cx="86" cy="245.5" rx="2.3" ry="1.9" fill="#FFFDF6" stroke="#F5AA31" stroke-width="0.6"/><ellipse cx="63" cy="236" rx="2.3" ry="1.9" fill="#FFFDF6" stroke="#F5AA31" stroke-width="0.6"/><ellipse cx="67" cy="235.5" rx="2.3" ry="1.9" fill="#FFFDF6" stroke="#F5AA31" stroke-width="0.6"/><ellipse cx="71" cy="234.5" rx="2.3" ry="1.9" fill="#FFFDF6" stroke="#F5AA31" stroke-width="0.6"/><ellipse cx="75" cy="235" rx="2.3" ry="1.9" fill="#FFFDF6" stroke="#F5AA31" stroke-width="0.6"/><ellipse cx="79" cy="236" rx="2.3" ry="1.9" fill="#FFFDF6" stroke="#F5AA31" stroke-width="0.6"/><ellipse cx="69" cy="232.8" rx="2.3" ry="1.9" fill="#FFFDF6" stroke="#F5AA31" stroke-width="0.6"/><ellipse cx="73" cy="232.5" rx="2.3" ry="1.9" fill="#FFFDF6" stroke="#F5AA31" stroke-width="0.6"/><ellipse cx="66" cy="238" rx="2.3" ry="1.9" fill="#FFFDF6" stroke="#F5AA31" stroke-width="0.6"/><ellipse cx="76" cy="237.5" rx="2.3" ry="1.9" fill="#FFFDF6" stroke="#F5AA31" stroke-width="0.6"/><ellipse cx="82" cy="237.8" rx="2.3" ry="1.9" fill="#FFFDF6" stroke="#F5AA31" stroke-width="0.6"/><ellipse cx="60" cy="241.5" rx="2.3" ry="1.9" fill="#FFFDF6" stroke="#F5AA31" stroke-width="0.6"/><path d="M51.5,246.5 C58,250 84,250 90.2,246.5" fill="none" stroke="#F5AA31" stroke-width="0.8"/></g><g id="i-pan"><circle cx="192.4" cy="298.4" r="9.1" fill="#FFFDF6"/><circle cx="192.4" cy="298.4" r="7.5" fill="none" stroke="#F5AA31" stroke-width="0.6"/><path d="M166.6,296.6 L178,296.9 L183.5,297.7 L183.5,299.2 L178,299.9 L166.6,300.2 A1.8,1.8 0 0 1 166.6,296.6 Z" fill="#FFFDF6"/><path d="M168.3,311.2 L177.9,311.2 L176.6,324.5 L169.6,324.5 Z" fill="#FFFDF6"/><path d="M185.3,312 L197.8,312 L197.8,318 C197.8,321 195.5,322.2 193,322.2 L190,322.2 C187.5,322.2 185.3,321 185.3,318 Z" fill="#FFFDF6"/><path d="M197.4,313.8 C201,313.8 201,319.4 197.4,319.4" fill="none" stroke="#FFFDF6" stroke-width="1.3"/><rect x="182.4" y="323" width="19.1" height="2" rx="0.8" fill="#FFFDF6"/></g><g id="i-pillkit"><g transform="translate(473.75,51.75) rotate(-45)"><path d="M0.6,-6.8 L-12.8,-6.8 A6.8,6.8 0 0 0 -12.8,6.8 L0.6,6.8 Z" fill="#FFFDF6"/><path d="M0,-5.7 L12.8,-5.7 A5.7,5.7 0 0 1 12.8,5.7 L0,5.7 Z" fill="none" stroke="#FFFDF6" stroke-width="2.2"/></g><rect x="504" y="33.5" width="11.5" height="7" rx="1" fill="none" stroke="#FFFDF6" stroke-width="2"/><rect x="492" y="38.5" width="34.5" height="23.5" rx="3.2" fill="#FFFDF6"/><rect x="500.8" y="45.8" width="2.6" height="10" fill="#F5AA31"/><rect x="497.1" y="49.5" width="10" height="2.6" fill="#F5AA31"/></g><g id="i-syr"><rect x="590.1" y="133.2" width="8.2" height="1.6" fill="#FFFDF6"/><rect x="593.4" y="134" width="1.4" height="5" fill="#FFFDF6"/><rect x="585.8" y="137.7" width="16.8" height="2" fill="#FFFDF6"/><rect x="592.2" y="139.5" width="3.7" height="18" fill="none" stroke="#FFFDF6" stroke-width="1.3"/><rect x="591.6" y="150" width="4.9" height="7.8" fill="#FFFDF6"/><path d="M592.6,157.6 L595.5,157.6 L594.7,161 L594.6,167.8 L593.5,167.8 L593.4,161 Z" fill="#FFFDF6"/><rect x="603.4" y="147.4" width="11.3" height="20.2" rx="2" fill="none" stroke="#FFFDF6" stroke-width="1.5"/><rect x="602.6" y="146.6" width="12.8" height="4.6" rx="2" fill="#FFFDF6"/><line x1="603.5" y1="151.8" x2="614.5" y2="151.8" stroke="#F5AA31" stroke-width="0.7"/><rect x="605.5" y="156.5" width="2.6" height="6.5" fill="#FFFDF6"/></g><g id="i-baby"><circle cx="720" cy="43.7" r="16.2" fill="#FFFDF6"/><circle cx="715" cy="45.5" r="1.5" fill="#F5AA31"/><circle cx="724.8" cy="45.5" r="1.5" fill="#F5AA31"/><path d="M715.6,54.6 L724.4,54.6 C723.5,57.6 716.5,57.6 715.6,54.6 Z" fill="#F5AA31"/><line x1="696.3" y1="58.6" x2="703" y2="61.3" stroke="#FFFDF6" stroke-width="1"/><ellipse cx="706.6" cy="62.4" rx="3.8" ry="2.6" transform="rotate(20 706.6 62.4)" fill="#FFFDF6"/><line x1="709.5" y1="63.6" x2="716.5" y2="66.5" stroke="#FFFDF6" stroke-width="0.9"/><ellipse cx="724" cy="68.3" rx="7.6" ry="2.8" fill="#FFFDF6"/><ellipse cx="724" cy="67.8" rx="5.8" ry="1.7" fill="none" stroke="#F5AA31" stroke-width="0.6"/></g><g id="i-well"><rect x="484.1" y="308.2" width="16.3" height="3.4" fill="#FFFDF6"/><rect x="497.3" y="308.2" width="3.3" height="30.1" fill="#FFFDF6"/><rect x="508" y="308.2" width="17.3" height="3.4" fill="#FFFDF6"/><rect x="508" y="308.2" width="3.4" height="30.1" fill="#FFFDF6"/><rect x="502.4" y="303.8" width="3.8" height="28" fill="#FFFDF6"/><circle cx="504.3" cy="332" r="2.7" fill="#FFFDF6"/></g><g id="i-tap"><rect x="702.5" y="307.2" width="26" height="2.4" rx="1" fill="#FFFDF6"/><circle cx="703.3" cy="308.4" r="2.2" fill="#FFFDF6"/><circle cx="728" cy="308.4" r="2.2" fill="#FFFDF6"/><rect x="713.8" y="309" width="3.9" height="5" fill="#FFFDF6"/><path d="M709.6,314 Q709.6,312.8 711,312.8 L720.2,312.8 Q721.6,312.8 721.6,314 L721.6,316 L730,316 Q737.2,316 737.2,323 L737.2,329.2 L726,329.2 L726,324.1 L721.6,324.1 Q721.6,327.2 715.6,327.2 Q709.6,327.2 709.6,324.1 L699,324.1 L699,316 L709.6,316 Z" fill="#FFFDF6"/><path d="M731.7,330.7 C732.5,333 734.1,334.6 734.1,336.4 A2.4,2.4 0 0 1 729.3,336.4 C729.3,334.6 730.9,333 731.7,330.7 Z" fill="#FFFDF6"/></g><g id="i-wellw"><rect x="583.5" y="400.9" width="13" height="3.1" fill="#FFFDF6"/><rect x="609.6" y="400.9" width="12.8" height="3.1" fill="#FFFDF6"/><rect x="593.2" y="400.9" width="3.5" height="28" fill="#FFFDF6"/><rect x="609.4" y="400.9" width="3.5" height="28" fill="#FFFDF6"/><path d="M593.2,412.6 L595,412 L596.5,412.8 L598,412 L599.5,412.8 L601,412 L602.5,412.8 L604,412 L605.5,412.8 L607,412 L608.5,412.8 L610,412 L612.9,412.6 L612.9,428.9 L593.2,428.9 Z" fill="#FFFDF6"/><rect x="601.9" y="398.8" width="2.6" height="9.9" fill="#FFFDF6"/><path d="M599,400.2 L603.2,395 L607.5,400.2 Z" fill="#FFFDF6"/></g></defs>
<use href="#i-bowl"/>
<use href="#i-pan"/>
<use href="#i-pillkit"/>
<use href="#i-syr"/>
<use href="#i-baby"/>
<use href="#i-well"/>
<use href="#i-tap"/>
<use href="#i-wellw"/>
<use href="#i-bowl" transform="translate(287.11,376.84) scale(0.48)"/>
<use href="#i-pan" transform="translate(220.59,356.01) scale(0.534)"/>
<use href="#i-pillkit" transform="translate(242.14,478.10) scale(0.32)"/>
<use href="#i-syr" transform="translate(47.08,430.31) scale(0.59)"/>
<use href="#i-baby" transform="translate(122.74,528.26) scale(0.383)"/>
<use href="#i-wellw" transform="translate(249.24,334.75) scale(0.39)"/>
<use href="#i-well" transform="translate(293.44,396.76) scale(0.38)"/>
<use href="#i-tap" transform="translate(245.03,432.93) scale(0.335)"/>
<circle cx="655.7" cy="527.3" r="19.3" fill="#fff" stroke="#1a1a1a" stroke-width="1.2"/><circle cx="655.7" cy="527.3" r="13.6" fill="#fff" stroke="#1a1a1a" stroke-width="0.6"/><circle cx="654.6" cy="527.5" r="11.8" fill="#E0262E"/><circle cx="659.4000000000001" cy="527.3" r="10" fill="#fff"/><path id="arc-t" d="M640.2,529.3 A15.5,15.5 0 0 1 671.2,529.3" fill="none"/><text font-size="4.9" font-weight="bold" fill="#111" stroke="#111" stroke-width="0.2"><textPath href="#arc-t" startOffset="50%" text-anchor="middle">URURKA BISHA CAS</textPath></text><text x="655.7" y="544.9" font-size="5" font-weight="bold" fill="#111" stroke="#111" stroke-width="0.2" text-anchor="middle">SRCS</text>
<text x="277.82" y="262.00" font-size="41.00" font-weight="bold" textLength="20.40" lengthAdjust="spacingAndGlyphs" fill="#FFFDF6">$</text>
<text x="314.47" y="553.50" font-size="19.00" font-weight="bold" textLength="9.89" lengthAdjust="spacingAndGlyphs" fill="#FFFDF6">$</text>
<text x="19.37" y="29.50" font-size="18.90" font-weight="bold" textLength="401.08" lengthAdjust="spacingAndGlyphs" fill="#FFFDF6">KA JAWAAB CELINTA XAALADAHA DEG DEGGA</text>
<text x="92.58" y="48.50" font-size="18.20" font-weight="bold" textLength="259.37" lengthAdjust="spacingAndGlyphs" fill="#FFFDF6">AH EE ABAARTA SOOMAALIYA</text>
<text x="74.30" y="67.50" font-size="18.90" textLength="286.61" lengthAdjust="spacingAndGlyphs" fill="#FFFDF6">01 JANAAYO - 11 AGOOSTO 2017</text>
<text x="17.70" y="81.20" font-size="8.9" textLength="37.61" lengthAdjust="spacingAndGlyphs" fill="#FFFDF6" stroke="#FFFDF6" stroke-width="0.18">Xaaladda</text>
<text x="57.81" y="81.20" font-size="8.9" textLength="65.03" lengthAdjust="spacingAndGlyphs" fill="#FFFDF6" stroke="#FFFDF6" stroke-width="0.18">bani&#39;aadamnimo</text>
<text x="125.34" y="81.20" font-size="8.9" textLength="9.40" lengthAdjust="spacingAndGlyphs" fill="#FFFDF6" stroke="#FFFDF6" stroke-width="0.18">ka</text>
<text x="137.25" y="81.20" font-size="8.9" textLength="14.34" lengthAdjust="spacingAndGlyphs" fill="#FFFDF6" stroke="#FFFDF6" stroke-width="0.18">jirta</text>
<text x="154.09" y="81.20" font-size="8.9" textLength="46.50" lengthAdjust="spacingAndGlyphs" fill="#FFFDF6" stroke="#FFFDF6" stroke-width="0.18">Soomaaliya</text>
<text x="203.09" y="81.20" font-size="8.9" textLength="20.78" lengthAdjust="spacingAndGlyphs" fill="#FFFDF6" stroke="#FFFDF6" stroke-width="0.18">waxa</text>
<text x="226.37" y="81.20" font-size="8.9" textLength="22.26" lengthAdjust="spacingAndGlyphs" fill="#FFFDF6" stroke="#FFFDF6" stroke-width="0.18">qarka</text>
<text x="251.14" y="81.20" font-size="8.9" textLength="4.95" lengthAdjust="spacingAndGlyphs" fill="#FFFDF6" stroke="#FFFDF6" stroke-width="0.18">u</text>
<text x="258.59" y="81.20" font-size="8.9" textLength="48.98" lengthAdjust="spacingAndGlyphs" fill="#FFFDF6" stroke="#FFFDF6" stroke-width="0.18">saarantahay</text>
<text x="310.08" y="81.20" font-size="8.9" textLength="6.93" lengthAdjust="spacingAndGlyphs" fill="#FFFDF6" stroke="#FFFDF6" stroke-width="0.18">in</text>
<text x="319.50" y="81.20" font-size="8.9" textLength="9.40" lengthAdjust="spacingAndGlyphs" fill="#FFFDF6" stroke="#FFFDF6" stroke-width="0.18">ay</text>
<text x="331.41" y="81.20" font-size="8.9" textLength="25.24" lengthAdjust="spacingAndGlyphs" fill="#FFFDF6" stroke="#FFFDF6" stroke-width="0.18">gaarto</text>
<text x="359.14" y="81.20" font-size="8.9" textLength="17.81" lengthAdjust="spacingAndGlyphs" fill="#FFFDF6" stroke="#FFFDF6" stroke-width="0.18">heer</text>
<text x="379.46" y="81.20" font-size="8.9" textLength="30.67" lengthAdjust="spacingAndGlyphs" fill="#FFFDF6" stroke="#FFFDF6" stroke-width="0.18">musiibo</text>
<text x="412.63" y="81.20" font-size="8.9" textLength="12.37" lengthAdjust="spacingAndGlyphs" fill="#FFFDF6" stroke="#FFFDF6" stroke-width="0.18">ah,</text>
<text x="17.70" y="90.52" font-size="8.9" textLength="34.88" lengthAdjust="spacingAndGlyphs" fill="#FFFDF6" stroke="#FFFDF6" stroke-width="0.18">waxaana</text>
<text x="55.00" y="90.52" font-size="8.9" textLength="8.23" lengthAdjust="spacingAndGlyphs" fill="#FFFDF6" stroke="#FFFDF6" stroke-width="0.18">sii</text>
<text x="65.64" y="90.52" font-size="8.9" textLength="35.84" lengthAdjust="spacingAndGlyphs" fill="#FFFDF6" stroke="#FFFDF6" stroke-width="0.18">kordhaya</text>
<text x="103.91" y="90.52" font-size="8.9" textLength="31.97" lengthAdjust="spacingAndGlyphs" fill="#FFFDF6" stroke="#FFFDF6" stroke-width="0.18">walaaca</text>
<text x="138.29" y="90.52" font-size="8.9" textLength="9.69" lengthAdjust="spacingAndGlyphs" fill="#FFFDF6" stroke="#FFFDF6" stroke-width="0.18">ah</text>
<text x="150.40" y="90.52" font-size="8.9" textLength="6.78" lengthAdjust="spacingAndGlyphs" fill="#FFFDF6" stroke="#FFFDF6" stroke-width="0.18">in</text>
<text x="159.61" y="90.52" font-size="8.9" textLength="33.92" lengthAdjust="spacingAndGlyphs" fill="#FFFDF6" stroke="#FFFDF6" stroke-width="0.18">dhabaha</text>
<text x="195.94" y="90.52" font-size="8.9" textLength="9.20" lengthAdjust="spacingAndGlyphs" fill="#FFFDF6" stroke="#FFFDF6" stroke-width="0.18">ay</text>
<text x="207.57" y="90.52" font-size="8.9" textLength="9.20" lengthAdjust="spacingAndGlyphs" fill="#FFFDF6" stroke="#FFFDF6" stroke-width="0.18">ku</text>
<text x="219.19" y="90.52" font-size="8.9" textLength="25.67" lengthAdjust="spacingAndGlyphs" fill="#FFFDF6" stroke="#FFFDF6" stroke-width="0.18">socoto</text>
<text x="247.28" y="90.52" font-size="8.9" textLength="6.29" lengthAdjust="spacingAndGlyphs" fill="#FFFDF6" stroke="#FFFDF6" stroke-width="0.18">si</text>
<text x="255.99" y="90.52" font-size="8.9" textLength="13.07" lengthAdjust="spacingAndGlyphs" fill="#FFFDF6" stroke="#FFFDF6" stroke-width="0.18">wel</text>
<text x="271.49" y="90.52" font-size="8.9" textLength="13.07" lengthAdjust="spacingAndGlyphs" fill="#FFFDF6" stroke="#FFFDF6" stroke-width="0.18">wel</text>
<text x="286.98" y="90.52" font-size="8.9" textLength="11.63" lengthAdjust="spacingAndGlyphs" fill="#FFFDF6" stroke="#FFFDF6" stroke-width="0.18">leh</text>
<text x="301.03" y="90.52" font-size="8.9" textLength="11.63" lengthAdjust="spacingAndGlyphs" fill="#FFFDF6" stroke="#FFFDF6" stroke-width="0.18">ula</text>
<text x="315.07" y="90.52" font-size="8.9" textLength="14.04" lengthAdjust="spacingAndGlyphs" fill="#FFFDF6" stroke="#FFFDF6" stroke-width="0.18">mid</text>
<text x="331.53" y="90.52" font-size="8.9" textLength="21.31" lengthAdjust="spacingAndGlyphs" fill="#FFFDF6" stroke="#FFFDF6" stroke-width="0.18">tahay</text>
<text x="355.27" y="90.52" font-size="8.9" textLength="38.74" lengthAdjust="spacingAndGlyphs" fill="#FFFDF6" stroke="#FFFDF6" stroke-width="0.18">musiibadii</text>
<text x="396.42" y="90.52" font-size="8.9" textLength="28.58" lengthAdjust="spacingAndGlyphs" fill="#FFFDF6" stroke="#FFFDF6" stroke-width="0.18">abaartii</text>
<text x="17.70" y="99.84" font-size="8.9" textLength="9.29" lengthAdjust="spacingAndGlyphs" fill="#FFFDF6" stroke="#FFFDF6" stroke-width="0.18">ka</text>
<text x="29.43" y="99.84" font-size="8.9" textLength="33.25" lengthAdjust="spacingAndGlyphs" fill="#FFFDF6" stroke="#FFFDF6" stroke-width="0.18">dhacday</text>
<text x="65.13" y="99.84" font-size="8.9" textLength="45.96" lengthAdjust="spacingAndGlyphs" fill="#FFFDF6" stroke="#FFFDF6" stroke-width="0.18">Soomaaliya</text>
<text x="113.53" y="99.84" font-size="8.9" textLength="30.80" lengthAdjust="spacingAndGlyphs" fill="#FFFDF6" stroke="#FFFDF6" stroke-width="0.18">2011-kii</text>
<text x="146.77" y="99.84" font-size="8.9" textLength="9.78" lengthAdjust="spacingAndGlyphs" fill="#FFFDF6" stroke="#FFFDF6" stroke-width="0.18">oo</text>
<text x="159.00" y="99.84" font-size="8.9" textLength="14.67" lengthAdjust="spacingAndGlyphs" fill="#FFFDF6" stroke="#FFFDF6" stroke-width="0.18">dad</text>
<text x="176.11" y="99.84" font-size="8.9" textLength="16.63" lengthAdjust="spacingAndGlyphs" fill="#FFFDF6" stroke="#FFFDF6" stroke-width="0.18">lagu</text>
<text x="195.19" y="99.84" font-size="8.9" textLength="34.71" lengthAdjust="spacingAndGlyphs" fill="#FFFDF6" stroke="#FFFDF6" stroke-width="0.18">qiyaasay</text>
<text x="232.34" y="99.84" font-size="8.9" textLength="31.79" lengthAdjust="spacingAndGlyphs" fill="#FFFDF6" stroke="#FFFDF6" stroke-width="0.18">260,000</text>
<text x="266.58" y="99.84" font-size="8.9" textLength="12.23" lengthAdjust="spacingAndGlyphs" fill="#FFFDF6" stroke="#FFFDF6" stroke-width="0.18">qof</text>
<text x="281.25" y="99.84" font-size="8.9" textLength="9.29" lengthAdjust="spacingAndGlyphs" fill="#FFFDF6" stroke="#FFFDF6" stroke-width="0.18">ay</text>
<text x="292.98" y="99.84" font-size="8.9" textLength="9.29" lengthAdjust="spacingAndGlyphs" fill="#FFFDF6" stroke="#FFFDF6" stroke-width="0.18">ku</text>
<text x="304.71" y="99.84" font-size="8.9" textLength="12.23" lengthAdjust="spacingAndGlyphs" fill="#FFFDF6" stroke="#FFFDF6" stroke-width="0.18">naf</text>
<text x="319.38" y="99.84" font-size="8.9" textLength="37.65" lengthAdjust="spacingAndGlyphs" fill="#FFFDF6" stroke="#FFFDF6" stroke-width="0.18">waayeen.</text>
<text x="359.48" y="99.84" font-size="8.9" textLength="29.34" lengthAdjust="spacingAndGlyphs" fill="#FFFDF6" stroke="#FFFDF6" stroke-width="0.18">Maanta</text>
<text x="391.25" y="99.84" font-size="8.9" textLength="14.67" lengthAdjust="spacingAndGlyphs" fill="#FFFDF6" stroke="#FFFDF6" stroke-width="0.18">dad</text>
<text x="408.37" y="99.84" font-size="8.9" textLength="16.63" lengthAdjust="spacingAndGlyphs" fill="#FFFDF6" stroke="#FFFDF6" stroke-width="0.18">lagu</text>
<text x="17.70" y="109.16" font-size="8.9" textLength="35.13" lengthAdjust="spacingAndGlyphs" fill="#FFFDF6" stroke="#FFFDF6" stroke-width="0.18">qiyaasay</text>
<text x="55.50" y="109.16" font-size="8.9" textLength="12.37" lengthAdjust="spacingAndGlyphs" fill="#FFFDF6" stroke="#FFFDF6" stroke-width="0.18">6.2</text>
<text x="70.54" y="109.16" font-size="8.9" textLength="28.69" lengthAdjust="spacingAndGlyphs" fill="#FFFDF6" stroke="#FFFDF6" stroke-width="0.18">malyan</text>
<text x="101.90" y="109.16" font-size="8.9" textLength="9.90" lengthAdjust="spacingAndGlyphs" fill="#FFFDF6" stroke="#FFFDF6" stroke-width="0.18">oo</text>
<text x="114.47" y="109.16" font-size="8.9" textLength="9.90" lengthAdjust="spacingAndGlyphs" fill="#FFFDF6" stroke="#FFFDF6" stroke-width="0.18">ah</text>
<text x="127.04" y="109.16" font-size="8.9" textLength="6.93" lengthAdjust="spacingAndGlyphs" fill="#FFFDF6" stroke="#FFFDF6" stroke-width="0.18">in</text>
<text x="136.64" y="109.16" font-size="8.9" textLength="9.40" lengthAdjust="spacingAndGlyphs" fill="#FFFDF6" stroke="#FFFDF6" stroke-width="0.18">ka</text>
<text x="148.71" y="109.16" font-size="8.9" textLength="24.75" lengthAdjust="spacingAndGlyphs" fill="#FFFDF6" stroke="#FFFDF6" stroke-width="0.18">badan</text>
<text x="176.13" y="109.16" font-size="8.9" textLength="16.33" lengthAdjust="spacingAndGlyphs" fill="#FFFDF6" stroke="#FFFDF6" stroke-width="0.18">kala</text>
<text x="195.12" y="109.16" font-size="8.9" textLength="12.86" lengthAdjust="spacingAndGlyphs" fill="#FFFDF6" stroke="#FFFDF6" stroke-width="0.18">bar</text>
<text x="210.66" y="109.16" font-size="8.9" textLength="24.25" lengthAdjust="spacingAndGlyphs" fill="#FFFDF6" stroke="#FFFDF6" stroke-width="0.18">dadka</text>
<text x="237.58" y="109.16" font-size="8.9" textLength="21.28" lengthAdjust="spacingAndGlyphs" fill="#FFFDF6" stroke="#FFFDF6" stroke-width="0.18">dalka</text>
<text x="261.52" y="109.16" font-size="8.9" textLength="25.23" lengthAdjust="spacingAndGlyphs" fill="#FFFDF6" stroke="#FFFDF6" stroke-width="0.18">waxay</text>
<text x="289.42" y="109.16" font-size="8.9" textLength="42.55" lengthAdjust="spacingAndGlyphs" fill="#FFFDF6" stroke="#FFFDF6" stroke-width="0.18">wajahayan</text>
<text x="334.64" y="109.16" font-size="8.9" textLength="21.77" lengthAdjust="spacingAndGlyphs" fill="#FFFDF6" stroke="#FFFDF6" stroke-width="0.18">cunto</text>
<text x="359.08" y="109.16" font-size="8.9" textLength="14.34" lengthAdjust="spacingAndGlyphs" fill="#FFFDF6" stroke="#FFFDF6" stroke-width="0.18">yari</text>
<text x="376.10" y="109.16" font-size="8.9" textLength="23.97" lengthAdjust="spacingAndGlyphs" fill="#FFFDF6" stroke="#FFFDF6" stroke-width="0.18">ba&#39;an,</text>
<text x="402.74" y="109.16" font-size="8.9" textLength="22.26" lengthAdjust="spacingAndGlyphs" fill="#FFFDF6" stroke="#FFFDF6" stroke-width="0.18">tirada</text>
<text x="17.70" y="118.48" font-size="8.9" textLength="31.40" lengthAdjust="spacingAndGlyphs" fill="#FFFDF6" stroke="#FFFDF6" stroke-width="0.18">caruurta</text>
<text x="51.48" y="118.48" font-size="8.9" textLength="9.52" lengthAdjust="spacingAndGlyphs" fill="#FFFDF6" stroke="#FFFDF6" stroke-width="0.18">oo</text>
<text x="63.38" y="118.48" font-size="8.9" textLength="49.01" lengthAdjust="spacingAndGlyphs" fill="#FFFDF6" stroke="#FFFDF6" stroke-width="0.18">nafaqo-darro</text>
<text x="114.77" y="118.48" font-size="8.9" textLength="21.89" lengthAdjust="spacingAndGlyphs" fill="#FFFDF6" stroke="#FFFDF6" stroke-width="0.18">daran</text>
<text x="139.04" y="118.48" font-size="8.9" textLength="22.84" lengthAdjust="spacingAndGlyphs" fill="#FFFDF6" stroke="#FFFDF6" stroke-width="0.18">hayso</text>
<text x="164.25" y="118.48" font-size="8.9" textLength="15.22" lengthAdjust="spacingAndGlyphs" fill="#FFFDF6" stroke="#FFFDF6" stroke-width="0.18">way</text>
<text x="181.85" y="118.48" font-size="8.9" textLength="8.08" lengthAdjust="spacingAndGlyphs" fill="#FFFDF6" stroke="#FFFDF6" stroke-width="0.18">sii</text>
<text x="192.31" y="118.48" font-size="8.9" textLength="46.63" lengthAdjust="spacingAndGlyphs" fill="#FFFDF6" stroke="#FFFDF6" stroke-width="0.18">kordheysaa.</text>
<text x="241.32" y="118.48" font-size="8.9" textLength="45.69" lengthAdjust="spacingAndGlyphs" fill="#FFFDF6" stroke="#FFFDF6" stroke-width="0.18">Xaaladdaan</text>
<text x="289.39" y="118.48" font-size="8.9" textLength="25.70" lengthAdjust="spacingAndGlyphs" fill="#FFFDF6" stroke="#FFFDF6" stroke-width="0.18">quusta</text>
<text x="317.47" y="118.48" font-size="8.9" textLength="9.52" lengthAdjust="spacingAndGlyphs" fill="#FFFDF6" stroke="#FFFDF6" stroke-width="0.18">ah</text>
<text x="329.37" y="118.48" font-size="8.9" textLength="24.26" lengthAdjust="spacingAndGlyphs" fill="#FFFDF6" stroke="#FFFDF6" stroke-width="0.18">waxay</text>
<text x="356.01" y="118.48" font-size="8.9" textLength="41.39" lengthAdjust="spacingAndGlyphs" fill="#FFFDF6" stroke="#FFFDF6" stroke-width="0.18">imaaneysa</text>
<text x="399.78" y="118.48" font-size="8.9" textLength="25.22" lengthAdjust="spacingAndGlyphs" fill="#FFFDF6" stroke="#FFFDF6" stroke-width="0.18">colaad</text>
<text x="17.70" y="127.80" font-size="8.9" textLength="66.81" lengthAdjust="spacingAndGlyphs" fill="#FFFDF6" stroke="#FFFDF6" stroke-width="0.18">dabadheeraaday</text>
<text x="89.87" y="127.80" font-size="8.9" textLength="9.40" lengthAdjust="spacingAndGlyphs" fill="#FFFDF6" stroke="#FFFDF6" stroke-width="0.18">ka</text>
<text x="104.63" y="127.80" font-size="8.9" textLength="11.88" lengthAdjust="spacingAndGlyphs" fill="#FFFDF6" stroke="#FFFDF6" stroke-width="0.18">dib</text>
<text x="121.87" y="127.80" font-size="8.9" textLength="12.37" lengthAdjust="spacingAndGlyphs" fill="#FFFDF6" stroke="#FFFDF6" stroke-width="0.18">taa</text>
<text x="139.60" y="127.80" font-size="8.9" textLength="9.90" lengthAdjust="spacingAndGlyphs" fill="#FFFDF6" stroke="#FFFDF6" stroke-width="0.18">oo</text>
<text x="154.86" y="127.80" font-size="8.9" textLength="57.39" lengthAdjust="spacingAndGlyphs" fill="#FFFDF6" stroke="#FFFDF6" stroke-width="0.18">carqaladeysay</text>
<text x="217.60" y="127.80" font-size="8.9" textLength="60.87" lengthAdjust="spacingAndGlyphs" fill="#FFFDF6" stroke="#FFFDF6" stroke-width="0.18">hab-nololeedka</text>
<text x="283.83" y="127.80" font-size="8.9" textLength="11.38" lengthAdjust="spacingAndGlyphs" fill="#FFFDF6" stroke="#FFFDF6" stroke-width="0.18">iyo</text>
<text x="300.57" y="127.80" font-size="8.9" textLength="44.05" lengthAdjust="spacingAndGlyphs" fill="#FFFDF6" stroke="#FFFDF6" stroke-width="0.18">adeegyada</text>
<text x="349.97" y="127.80" font-size="8.9" textLength="38.08" lengthAdjust="spacingAndGlyphs" fill="#FFFDF6" stroke="#FFFDF6" stroke-width="0.18">muhiimka</text>
<text x="393.41" y="127.80" font-size="8.9" textLength="9.90" lengthAdjust="spacingAndGlyphs" fill="#FFFDF6" stroke="#FFFDF6" stroke-width="0.18">ah</text>
<text x="408.67" y="127.80" font-size="8.9" textLength="16.33" lengthAdjust="spacingAndGlyphs" fill="#FFFDF6" stroke="#FFFDF6" stroke-width="0.18">sida</text>
<text x="17.70" y="137.12" font-size="8.9" textLength="50.46" lengthAdjust="spacingAndGlyphs" fill="#FFFDF6" stroke="#FFFDF6" stroke-width="0.18">caafimaadka</text>
<text x="70.84" y="137.12" font-size="8.9" textLength="11.38" lengthAdjust="spacingAndGlyphs" fill="#FFFDF6" stroke="#FFFDF6" stroke-width="0.18">iyo</text>
<text x="84.89" y="137.12" font-size="8.9" textLength="28.70" lengthAdjust="spacingAndGlyphs" fill="#FFFDF6" stroke="#FFFDF6" stroke-width="0.18">biyaha.</text>
<text x="116.27" y="137.12" font-size="8.9" textLength="33.65" lengthAdjust="spacingAndGlyphs" fill="#FFFDF6" stroke="#FFFDF6" stroke-width="0.18">Guddiga</text>
<text x="152.59" y="137.12" font-size="8.9" textLength="42.54" lengthAdjust="spacingAndGlyphs" fill="#FFFDF6" stroke="#FFFDF6" stroke-width="0.18">Caalamiga</text>
<text x="197.81" y="137.12" font-size="8.9" textLength="44.53" lengthAdjust="spacingAndGlyphs" fill="#FFFDF6" stroke="#FFFDF6" stroke-width="0.18">Laanqayrta</text>
<text x="245.02" y="137.12" font-size="8.9" textLength="15.83" lengthAdjust="spacingAndGlyphs" fill="#FFFDF6" stroke="#FFFDF6" stroke-width="0.18">Cas</text>
<text x="263.52" y="137.12" font-size="8.9" textLength="27.68" lengthAdjust="spacingAndGlyphs" fill="#FFFDF6" stroke="#FFFDF6" stroke-width="0.18">(ICRC)</text>
<text x="293.88" y="137.12" font-size="8.9" textLength="9.90" lengthAdjust="spacingAndGlyphs" fill="#FFFDF6" stroke="#FFFDF6" stroke-width="0.18">oo</text>
<text x="306.46" y="137.12" font-size="8.9" textLength="33.14" lengthAdjust="spacingAndGlyphs" fill="#FFFDF6" stroke="#FFFDF6" stroke-width="0.18">wadajira</text>
<text x="342.28" y="137.12" font-size="8.9" textLength="26.70" lengthAdjust="spacingAndGlyphs" fill="#FFFDF6" stroke="#FFFDF6" stroke-width="0.18">Ururka</text>
<text x="371.66" y="137.12" font-size="8.9" textLength="22.26" lengthAdjust="spacingAndGlyphs" fill="#FFFDF6" stroke="#FFFDF6" stroke-width="0.18">Bisha</text>
<text x="396.60" y="137.12" font-size="8.9" textLength="15.83" lengthAdjust="spacingAndGlyphs" fill="#FFFDF6" stroke="#FFFDF6" stroke-width="0.18">Cas</text>
<text x="415.10" y="137.12" font-size="8.9" textLength="9.90" lengthAdjust="spacingAndGlyphs" fill="#FFFDF6" stroke="#FFFDF6" stroke-width="0.18">ee</text>
<text x="17.70" y="146.44" font-size="8.9" textLength="53.07" lengthAdjust="spacingAndGlyphs" fill="#FFFDF6" stroke="#FFFDF6" stroke-width="0.18">Soomaaliyeed</text>
<text x="73.10" y="146.44" font-size="8.9" textLength="28.84" lengthAdjust="spacingAndGlyphs" fill="#FFFDF6" stroke="#FFFDF6" stroke-width="0.18">(SRCS)</text>
<text x="104.27" y="146.44" font-size="8.9" textLength="10.70" lengthAdjust="spacingAndGlyphs" fill="#FFFDF6" stroke="#FFFDF6" stroke-width="0.18">iyo</text>
<text x="117.30" y="146.44" font-size="8.9" textLength="54.95" lengthAdjust="spacingAndGlyphs" fill="#FFFDF6" stroke="#FFFDF6" stroke-width="0.18">shabakadeeda</text>
<text x="174.57" y="146.44" font-size="8.9" textLength="55.39" lengthAdjust="spacingAndGlyphs" fill="#FFFDF6" stroke="#FFFDF6" stroke-width="0.18">mutadawiciinta</text>
<text x="232.28" y="146.44" font-size="8.9" textLength="36.79" lengthAdjust="spacingAndGlyphs" fill="#FFFDF6" stroke="#FFFDF6" stroke-width="0.18">baaxadda</text>
<text x="271.40" y="146.44" font-size="8.9" textLength="19.55" lengthAdjust="spacingAndGlyphs" fill="#FFFDF6" stroke="#FFFDF6" stroke-width="0.18">weyn</text>
<text x="293.27" y="146.44" font-size="8.9" textLength="23.74" lengthAdjust="spacingAndGlyphs" fill="#FFFDF6" stroke="#FFFDF6" stroke-width="0.18">waxay</text>
<text x="319.34" y="146.44" font-size="8.9" textLength="7.91" lengthAdjust="spacingAndGlyphs" fill="#FFFDF6" stroke="#FFFDF6" stroke-width="0.18">sii</text>
<text x="329.57" y="146.44" font-size="8.9" textLength="29.33" lengthAdjust="spacingAndGlyphs" fill="#FFFDF6" stroke="#FFFDF6" stroke-width="0.18">wadaan</text>
<text x="361.23" y="146.44" font-size="8.9" textLength="6.52" lengthAdjust="spacingAndGlyphs" fill="#FFFDF6" stroke="#FFFDF6" stroke-width="0.18">in</text>
<text x="370.07" y="146.44" font-size="8.9" textLength="8.84" lengthAdjust="spacingAndGlyphs" fill="#FFFDF6" stroke="#FFFDF6" stroke-width="0.18">ay</text>
<text x="381.25" y="146.44" font-size="8.9" textLength="43.75" lengthAdjust="spacingAndGlyphs" fill="#FFFDF6" stroke="#FFFDF6" stroke-width="0.18">Soomaaliya</text>
<text x="17.70" y="155.76" font-size="8.9" textLength="9.32" lengthAdjust="spacingAndGlyphs" fill="#FFFDF6" stroke="#FFFDF6" stroke-width="0.18">ka</text>
<text x="29.47" y="155.76" font-size="8.9" textLength="41.71" lengthAdjust="spacingAndGlyphs" fill="#FFFDF6" stroke="#FFFDF6" stroke-width="0.18">caawiyaan</text>
<text x="73.64" y="155.76" font-size="8.9" textLength="51.53" lengthAdjust="spacingAndGlyphs" fill="#FFFDF6" stroke="#FFFDF6" stroke-width="0.18">bulshooyinka</text>
<text x="127.61" y="155.76" font-size="8.9" textLength="29.94" lengthAdjust="spacingAndGlyphs" fill="#FFFDF6" stroke="#FFFDF6" stroke-width="0.18">abaartu</text>
<text x="160.00" y="155.76" font-size="8.9" textLength="44.64" lengthAdjust="spacingAndGlyphs" fill="#FFFDF6" stroke="#FFFDF6" stroke-width="0.18">saameysay</text>
<text x="207.10" y="155.76" font-size="8.9" textLength="9.82" lengthAdjust="spacingAndGlyphs" fill="#FFFDF6" stroke="#FFFDF6" stroke-width="0.18">oo</text>
<text x="219.37" y="155.76" font-size="8.9" textLength="9.32" lengthAdjust="spacingAndGlyphs" fill="#FFFDF6" stroke="#FFFDF6" stroke-width="0.18">ku</text>
<text x="231.14" y="155.76" font-size="8.9" textLength="24.05" lengthAdjust="spacingAndGlyphs" fill="#FFFDF6" stroke="#FFFDF6" stroke-width="0.18">sugan</text>
<text x="257.65" y="155.76" font-size="8.9" textLength="34.36" lengthAdjust="spacingAndGlyphs" fill="#FFFDF6" stroke="#FFFDF6" stroke-width="0.18">goobaha</text>
<text x="294.46" y="155.76" font-size="8.9" textLength="30.92" lengthAdjust="spacingAndGlyphs" fill="#FFFDF6" stroke="#FFFDF6" stroke-width="0.18">colaada</text>
<text x="327.84" y="155.76" font-size="8.9" textLength="4.91" lengthAdjust="spacingAndGlyphs" fill="#FFFDF6" stroke="#FFFDF6" stroke-width="0.18">u</text>
<text x="335.20" y="155.76" font-size="8.9" textLength="21.10" lengthAdjust="spacingAndGlyphs" fill="#FFFDF6" stroke="#FFFDF6" stroke-width="0.18">lexan</text>
<text x="358.75" y="155.76" font-size="8.9" textLength="20.11" lengthAdjust="spacingAndGlyphs" fill="#FFFDF6" stroke="#FFFDF6" stroke-width="0.18">yihiin</text>
<text x="381.32" y="155.76" font-size="8.9" textLength="9.82" lengthAdjust="spacingAndGlyphs" fill="#FFFDF6" stroke="#FFFDF6" stroke-width="0.18">oo</text>
<text x="393.59" y="155.76" font-size="8.9" textLength="9.32" lengthAdjust="spacingAndGlyphs" fill="#FFFDF6" stroke="#FFFDF6" stroke-width="0.18">ay</text>
<text x="405.36" y="155.76" font-size="8.9" textLength="19.64" lengthAdjust="spacingAndGlyphs" fill="#FFFDF6" stroke="#FFFDF6" stroke-width="0.18">adag</text>
<text x="17.87" y="165.08" font-size="8.90" textLength="66.42" lengthAdjust="spacingAndGlyphs" fill="#FFFDF6" stroke="#FFFDF6" stroke-width="0.18">tahay in la gaaro.</text>
<circle cx="182.5" cy="224.3" r="62" fill="#3AA737"/>
<circle cx="603.2" cy="71.8" r="56.8" fill="#EA571F"/>
<circle cx="603.5" cy="332.5" r="57" fill="#3567AF"/>
<text x="135.70" y="218.60" font-size="18.30" font-weight="bold" textLength="92.37" lengthAdjust="spacingAndGlyphs" fill="#FFFDF6">HAWLAHA</text>
<text x="128.11" y="238.00" font-size="18.30" font-weight="bold" textLength="111.33" lengthAdjust="spacingAndGlyphs" fill="#FFFDF6">GARGAARKA</text>
<text x="564.97" y="63.50" font-size="15.40" font-weight="bold" textLength="71.90" lengthAdjust="spacingAndGlyphs" fill="#FFFDF6">HAWLAHA</text>
<text x="562.01" y="79.00" font-size="15.40" font-weight="bold" textLength="82.74" lengthAdjust="spacingAndGlyphs" fill="#FFFDF6">DARYEELKA</text>
<text x="552.14" y="93.80" font-size="15.40" font-weight="bold" textLength="102.72" lengthAdjust="spacingAndGlyphs" fill="#FFFDF6">CAAFIMAADKA</text>
<text x="559.72" y="321.60" font-size="15.40" font-weight="bold" textLength="85.90" lengthAdjust="spacingAndGlyphs" fill="#FFFDF6">BIYAHA IYO</text>
<text x="551.64" y="337.00" font-size="15.40" font-weight="bold" textLength="102.34" lengthAdjust="spacingAndGlyphs" fill="#FFFDF6">NADAAFADDA</text>
<text x="581.21" y="353.00" font-size="15.40" font-weight="bold" textLength="42.40" lengthAdjust="spacingAndGlyphs" fill="#FFFDF6">GUUD</text>
<text x="23.29" y="289.60" font-size="24.00" font-weight="bold" textLength="95.06" lengthAdjust="spacingAndGlyphs" fill="#FFFDF6" stroke="#FFFDF6" stroke-width="0.00" stroke-linejoin="round">243,582</text>
<text x="242.60" y="286.00" font-size="25.40" font-weight="bold" textLength="95.08" lengthAdjust="spacingAndGlyphs" fill="#FFFDF6" stroke="#FFFDF6" stroke-width="0.00" stroke-linejoin="round">427,860</text>
<text x="148.50" y="346.80" font-size="23.70" font-weight="bold" textLength="79.64" lengthAdjust="spacingAndGlyphs" fill="#FFFDF6" stroke="#FFFDF6" stroke-width="0.00" stroke-linejoin="round">57,264</text>
<text x="10.52" y="454.25" font-size="45.96" font-weight="bold" textLength="213.86" lengthAdjust="spacingAndGlyphs" fill="#FFFDF6" stroke="#FFFDF6" stroke-width="0.70" stroke-linejoin="round">1,529,093</text>
<text x="449.75" y="92.00" font-size="21.60" font-weight="bold" textLength="88.15" lengthAdjust="spacingAndGlyphs" fill="#FFFDF6" stroke="#FFFDF6" stroke-width="0.00" stroke-linejoin="round">241,789</text>
<text x="678.14" y="91.70" font-size="21.90" font-weight="bold" textLength="74.53" lengthAdjust="spacingAndGlyphs" fill="#FFFDF6" stroke="#FFFDF6" stroke-width="0.00" stroke-linejoin="round">31,802</text>
<text x="571.96" y="192.00" font-size="24.20" font-weight="bold" textLength="60.29" lengthAdjust="spacingAndGlyphs" fill="#FFFDF6" stroke="#FFFDF6" stroke-width="0.00" stroke-linejoin="round">7,247</text>
<text x="457.98" y="358.50" font-size="22.00" font-weight="bold" textLength="87.00" lengthAdjust="spacingAndGlyphs" fill="#FFFDF6" stroke="#FFFDF6" stroke-width="0.00" stroke-linejoin="round">163,750</text>
<text x="674.86" y="358.40" font-size="22.00" font-weight="bold" textLength="87.03" lengthAdjust="spacingAndGlyphs" fill="#FFFDF6" stroke="#FFFDF6" stroke-width="0.00" stroke-linejoin="round">518,429</text>
<text x="567.00" y="450.80" font-size="22.30" font-weight="bold" textLength="72.98" lengthAdjust="spacingAndGlyphs" fill="#FFFDF6" stroke="#FFFDF6" stroke-width="0.00" stroke-linejoin="round">12,430</text>
<text x="22.09" y="482.50" font-size="18.90" font-weight="bold" textLength="196.80" lengthAdjust="spacingAndGlyphs" fill="#FFFDF6">DADKA LA CAAWIYEY</text>
<text x="223.4" y="426.5" font-size="17.5" fill="#FFFDF6">*</text>
<text x="61.30" y="302.20" font-size="8.60" textLength="18.34" lengthAdjust="spacingAndGlyphs" fill="#FFFDF6">QOF</text>
<text x="279.60" y="298.00" font-size="8.60" textLength="18.44" lengthAdjust="spacingAndGlyphs" fill="#FFFDF6">QOF</text>
<text x="179.60" y="359.90" font-size="8.60" textLength="18.44" lengthAdjust="spacingAndGlyphs" fill="#FFFDF6">QOF</text>
<text x="487.96" y="103.70" font-size="8.60" textLength="15.53" lengthAdjust="spacingAndGlyphs" fill="#FFFDF6">QOF</text>
<text x="706.47" y="103.20" font-size="8.60" textLength="15.32" lengthAdjust="spacingAndGlyphs" fill="#FFFDF6">QOF</text>
<text x="594.64" y="203.50" font-size="8.60" textLength="16.67" lengthAdjust="spacingAndGlyphs" fill="#FFFDF6">QOF</text>
<text x="496.04" y="370.20" font-size="8.60" textLength="16.26" lengthAdjust="spacingAndGlyphs" fill="#FFFDF6">QOF</text>
<text x="711.26" y="369.90" font-size="8.60" textLength="15.63" lengthAdjust="spacingAndGlyphs" fill="#FFFDF6">QOF</text>
<text x="594.22" y="461.60" font-size="8.60" textLength="17.61" lengthAdjust="spacingAndGlyphs" fill="#FFFDF6">QOF</text>
<text x="22.31" y="310.50" font-size="7.90" textLength="95.74" lengthAdjust="spacingAndGlyphs" fill="#FFFDF6" stroke="#FFFDF6" stroke-width="0.15">waxay heleen cunto ka kooban</text>
<text x="46.42" y="318.30" font-size="7.90" textLength="46.69" lengthAdjust="spacingAndGlyphs" fill="#FFFDF6" stroke="#FFFDF6" stroke-width="0.15">50 kg bariis ah,</text>
<text x="36.65" y="325.80" font-size="7.90" textLength="65.26" lengthAdjust="spacingAndGlyphs" fill="#FFFDF6" stroke="#FFFDF6" stroke-width="0.15">25 kg digir iyo 10 litar</text>
<text x="32.21" y="332.70" font-size="7.90" textLength="76.79" lengthAdjust="spacingAndGlyphs" fill="#FFFDF6" stroke="#FFFDF6" stroke-width="0.15">oo saliid ah halkii qoysba</text>
<text x="235.21" y="307.70" font-size="7.90" textLength="105.79" lengthAdjust="spacingAndGlyphs" fill="#FFFDF6" stroke="#FFFDF6" stroke-width="0.15">ayaa taageero dhanka dhaqaalaha</text>
<text x="241.71" y="314.20" font-size="7.90" textLength="95.74" lengthAdjust="spacingAndGlyphs" fill="#FFFDF6" stroke="#FFFDF6" stroke-width="0.15">ah oo lacag caddaan ah heleen</text>
<text x="146.81" y="369.60" font-size="7.90" textLength="81.79" lengthAdjust="spacingAndGlyphs" fill="#FFFDF6" stroke="#FFFDF6" stroke-width="0.15">waxay heleen waxyaabaha</text>
<text x="136.54" y="377.00" font-size="7.90" textLength="103.76" lengthAdjust="spacingAndGlyphs" fill="#FFFDF6" stroke="#FFFDF6" stroke-width="0.15">lagama maarmaanka u ah qoyska</text>
<text x="457.01" y="113.30" font-size="7.90" textLength="77.73" lengthAdjust="spacingAndGlyphs" fill="#FFFDF6" stroke="#FFFDF6" stroke-width="0.15">waxay daryeel caafimaad</text>
<text x="448.03" y="120.70" font-size="7.90" textLength="95.92" lengthAdjust="spacingAndGlyphs" fill="#FFFDF6" stroke="#FFFDF6" stroke-width="0.15">ka heleen 25-ka bukaan-socod</text>
<text x="463.03" y="127.50" font-size="7.90" textLength="64.54" lengthAdjust="spacingAndGlyphs" fill="#FFFDF6" stroke="#FFFDF6" stroke-width="0.15">eegtooyinka SRCS iyo</text>
<text x="453.45" y="134.50" font-size="7.90" textLength="84.05" lengthAdjust="spacingAndGlyphs" fill="#FFFDF6" stroke="#FFFDF6" stroke-width="0.15">6 rug caafimaadka wareega</text>
<text x="669.91" y="111.30" font-size="7.90" textLength="89.07" lengthAdjust="spacingAndGlyphs" fill="#FFFDF6" stroke="#FFFDF6" stroke-width="0.15">caruur da&#39;dooda ka hooseyso</text>
<text x="664.01" y="118.80" font-size="7.90" textLength="100.20" lengthAdjust="spacingAndGlyphs" fill="#FFFDF6" stroke="#FFFDF6" stroke-width="0.15">shan sano oo nafaqo dari haysay</text>
<text x="666.91" y="126.00" font-size="7.90" textLength="93.29" lengthAdjust="spacingAndGlyphs" fill="#FFFDF6" stroke="#FFFDF6" stroke-width="0.15">ayaa lagu daweeyey xarumaha</text>
<text x="680.12" y="133.20" font-size="7.90" textLength="68.38" lengthAdjust="spacingAndGlyphs" fill="#FFFDF6" stroke="#FFFDF6" stroke-width="0.15">xanaanada deg degga</text>
<text x="656.54" y="140.20" font-size="7.90" textLength="116.09" lengthAdjust="spacingAndGlyphs" fill="#FFFDF6" stroke="#FFFDF6" stroke-width="0.15">iyo bukaan-socod eegtooyinka SRCS.</text>
<text x="537.71" y="212.60" font-size="7.90" textLength="128.58" lengthAdjust="spacingAndGlyphs" fill="#FFFDF6" stroke="#FFFDF6" stroke-width="0.15">qof ayaa la dhigay xarumaha lagu dabiibo</text>
<text x="538.72" y="220.60" font-size="7.90" textLength="126.28" lengthAdjust="spacingAndGlyphs" fill="#FFFDF6" stroke="#FFFDF6" stroke-width="0.15">daacuunka oo ku kala yaalaan Isbitaalada</text>
<text x="565.85" y="227.40" font-size="7.90" textLength="72.44" lengthAdjust="spacingAndGlyphs" fill="#FFFDF6" stroke="#FFFDF6" stroke-width="0.15">Kismaayo iyo Baydhabo</text>
<text x="458.51" y="379.50" font-size="7.90" textLength="90.78" lengthAdjust="spacingAndGlyphs" fill="#FFFDF6" stroke="#FFFDF6" stroke-width="0.15">waxay heleen biyo iyagoo loo</text>
<text x="456.21" y="386.30" font-size="7.90" textLength="96.15" lengthAdjust="spacingAndGlyphs" fill="#FFFDF6" stroke="#FFFDF6" stroke-width="0.15">dhisay loona dayactiray 21 ceel</text>
<text x="653.61" y="379.40" font-size="7.90" textLength="130.83" lengthAdjust="spacingAndGlyphs" fill="#FFFDF6" stroke="#FFFDF6" stroke-width="0.15">waxay ka faa&#39;ideysteen helitaanka biyo aan</text>
<text x="647.52" y="386.40" font-size="7.90" textLength="141.49" lengthAdjust="spacingAndGlyphs" fill="#FFFDF6" stroke="#FFFDF6" stroke-width="0.15">halis lahayn oo nadiif ah iyagoo loo sameeyey</text>
<text x="649.31" y="393.00" font-size="7.90" textLength="139.37" lengthAdjust="spacingAndGlyphs" fill="#FFFDF6" stroke="#FFFDF6" stroke-width="0.15">daaweynta biyaha qoyska, sahayda biyaha oo</text>
<text x="651.51" y="400.00" font-size="7.90" textLength="131.37" lengthAdjust="spacingAndGlyphs" fill="#FFFDF6" stroke="#FFFDF6" stroke-width="0.15">kolorlin loogu daray iyo dhiirigelinta kor u</text>
<text x="682.71" y="407.00" font-size="7.90" textLength="68.29" lengthAdjust="spacingAndGlyphs" fill="#FFFDF6" stroke="#FFFDF6" stroke-width="0.15">qaadida fayo-dhowrka</text>
<text x="550.51" y="472.40" font-size="7.90" textLength="105.38" lengthAdjust="spacingAndGlyphs" fill="#FFFDF6" stroke="#FFFDF6" stroke-width="0.15">waxay ka faa&#39;ideysteen dhismo iyo</text>
<text x="564.01" y="478.90" font-size="7.90" textLength="78.61" lengthAdjust="spacingAndGlyphs" fill="#FFFDF6" stroke="#FFFDF6" stroke-width="0.15">sii qodis ceel-gacmeedyo.</text>
<text x="23.99" y="498.90" font-size="7.90" textLength="186.11" lengthAdjust="spacingAndGlyphs" fill="#FFFDF6" stroke="#FFFDF6" stroke-width="0.15">*Shakhsiyaadka ka faa&#39;ideysanaya mid ama wax ka badan ee</text>
<text x="27.11" y="507.40" font-size="7.90" textLength="191.00" lengthAdjust="spacingAndGlyphs" fill="#FFFDF6" stroke="#FFFDF6" stroke-width="0.15">gargaarka waxay isugu jiraan cunto, waxyaabaha lagama maar</text>
<text x="26.95" y="515.90" font-size="7.90" textLength="195.50" lengthAdjust="spacingAndGlyphs" fill="#FFFDF6" stroke="#FFFDF6" stroke-width="0.15">maanka u ah qoyska, caafimaadka, biyaha iyo nadaafadda guud</text>
<text x="404.95" y="467.80" font-size="10.70" textLength="33.51" lengthAdjust="spacingAndGlyphs" fill="#FFFDF6" stroke="#FFFDF6" stroke-width="0.3">Tusmo</text>
<rect x="310" y="478.2" width="66.5" height="6.5" fill="#3AA737"/>
<rect x="389.3" y="478.1" width="67" height="6.4" fill="#EA571F"/>
<rect x="468.1" y="478.1" width="66.8" height="6.4" fill="#3567AF"/>
<text x="335.84" y="497.80" font-size="8.00" textLength="26.56" lengthAdjust="spacingAndGlyphs" fill="#FFFDF6" stroke="#FFFDF6" stroke-width="0.15">Cuntada</text>
<text x="335.57" y="513.50" font-size="8.00" textLength="38.93" lengthAdjust="spacingAndGlyphs" fill="#FFFDF6" stroke="#FFFDF6" stroke-width="0.15">Waxyaabaha</text>
<text x="334.99" y="520.60" font-size="8.00" textLength="27.01" lengthAdjust="spacingAndGlyphs" fill="#FFFDF6" stroke="#FFFDF6" stroke-width="0.15">Lagama</text>
<text x="335.04" y="527.90" font-size="8.00" textLength="45.92" lengthAdjust="spacingAndGlyphs" fill="#FFFDF6" stroke="#FFFDF6" stroke-width="0.15">Maarmaanka u</text>
<text x="335.33" y="535.00" font-size="8.00" textLength="30.67" lengthAdjust="spacingAndGlyphs" fill="#FFFDF6" stroke="#FFFDF6" stroke-width="0.15">ah Qoyska</text>
<text x="335.33" y="546.40" font-size="8.00" textLength="22.19" lengthAdjust="spacingAndGlyphs" fill="#FFFDF6" stroke="#FFFDF6" stroke-width="0.15">Lacag</text>
<text x="335.71" y="553.80" font-size="8.00" textLength="37.74" lengthAdjust="spacingAndGlyphs" fill="#FFFDF6" stroke="#FFFDF6" stroke-width="0.15">caddaan  ah</text>
<text x="415.44" y="497.60" font-size="8.00" textLength="30.96" lengthAdjust="spacingAndGlyphs" fill="#FFFDF6" stroke="#FFFDF6" stroke-width="0.15">Daryeelka</text>
<text x="415.71" y="504.70" font-size="8.00" textLength="38.89" lengthAdjust="spacingAndGlyphs" fill="#FFFDF6" stroke="#FFFDF6" stroke-width="0.15">caafimaadka</text>
<text x="415.85" y="520.80" font-size="8.00" textLength="31.15" lengthAdjust="spacingAndGlyphs" fill="#FFFDF6" stroke="#FFFDF6" stroke-width="0.15">Xarumaha</text>
<text x="415.71" y="527.60" font-size="8.00" textLength="33.49" lengthAdjust="spacingAndGlyphs" fill="#FFFDF6" stroke="#FFFDF6" stroke-width="0.15">daaweynta</text>
<text x="413.75" y="543.20" font-size="8.00" textLength="31.55" lengthAdjust="spacingAndGlyphs" fill="#FFFDF6" stroke="#FFFDF6" stroke-width="0.15">Xarumaha</text>
<text x="413.82" y="551.00" font-size="8.00" textLength="34.18" lengthAdjust="spacingAndGlyphs" fill="#FFFDF6" stroke="#FFFDF6" stroke-width="0.15">xanaanada</text>
<text x="413.63" y="558.50" font-size="8.00" textLength="30.37" lengthAdjust="spacingAndGlyphs" fill="#FFFDF6" stroke="#FFFDF6" stroke-width="0.15">deg degga</text>
<text x="496.05" y="502.20" font-size="8.00" textLength="44.39" lengthAdjust="spacingAndGlyphs" fill="#FFFDF6" stroke="#FFFDF6" stroke-width="0.15">Ceel gacmeed</text>
<text x="496.64" y="520.00" font-size="8.00" textLength="14.64" lengthAdjust="spacingAndGlyphs" fill="#FFFDF6" stroke="#FFFDF6" stroke-width="0.15">Ceel</text>
<text x="496.65" y="542.00" font-size="8.00" textLength="28.65" lengthAdjust="spacingAndGlyphs" fill="#FFFDF6" stroke="#FFFDF6" stroke-width="0.15">Goobaha</text>
<text x="496.51" y="549.30" font-size="8.00" textLength="22.49" lengthAdjust="spacingAndGlyphs" fill="#FFFDF6" stroke="#FFFDF6" stroke-width="0.15">biyaha</text>
<text x="712.90" y="539.30" font-size="31.50" textLength="74.26" lengthAdjust="spacingAndGlyphs" fill="#FFFDF6">ICRC</text>
<text x="525.25" y="563.50" font-size="3.60" textLength="150.02" lengthAdjust="spacingAndGlyphs" fill="#FFFDF6">Bixintaan ujeedkeeda waa macluumaad kaliya mana laha muuqaal siyaasadeed</text>
</svg>
</body></html>
